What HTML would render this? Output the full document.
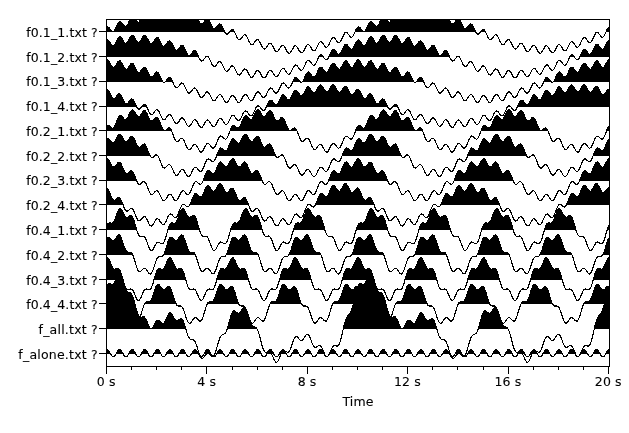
<!DOCTYPE html>
<html lang="en"><head><meta charset="utf-8"><title>Traces</title>
<style>
html,body{margin:0;padding:0;background:#fff;}
body{width:629px;height:433px;overflow:hidden;}
svg{display:block;}
</style></head><body>
<svg width="629" height="433" viewBox="0 0 629 433">
<rect x="0" y="0" width="629" height="433" fill="#fff"/>
<defs><clipPath id="c"><rect x="106.5" y="19.5" width="503.0" height="347.0"/></clipPath></defs>
<g clip-path="url(#c)" shape-rendering="crispEdges" stroke="#000" stroke-width="1.15" stroke-linejoin="round">
<polygon fill="#000" points="106.5,31.4 106.5,27.31 107.75,26.75 109.01,27.58 110.27,29.27 111.52,30.95 112.78,31.79 114.03,31.25 115.28,29.33 116.54,26.56 117.8,23.8 119.05,21.89 120.31,21.38 121.56,22.25 122.81,23.99 124.07,25.73 125.33,26.63 126.58,26.15 127.84,24.3 129.09,21.61 130.34,18.92 131.6,17.1 132.86,16.68 134.11,17.65 135.37,19.48 136.62,21.33 137.88,22.33 139.13,21.97 140.38,20.24 141.64,17.66 142.9,15.1 144.15,13.41 145.41,13.12 146.66,14.22 147.92,16.19 149.17,18.18 150.43,19.33 151.68,19.11 152.94,17.53 154.19,15.11 155.44,12.7 156.7,11.17 157.96,11.04 159.21,12.3 160.47,14.44 161.72,16.59 162.97,17.91 164.23,17.86 165.49,16.45 166.74,14.2 168,11.97 169.25,10.61 170.5,10.65 171.76,12.09 173.02,14.4 174.27,16.73 175.53,18.22 176.78,18.34 178.04,17.1 179.29,15.02 180.55,12.96 181.8,11.77 183.06,11.98 184.31,13.59 185.56,16.07 186.82,18.56 188.07,20.21 189.33,20.5 190.59,19.42 191.84,17.5 193.1,15.59 194.35,14.56 195.61,14.91 196.86,16.67 198.12,19.29 199.37,21.92 200.62,23.71 201.88,24.13 203.13,23.18 204.39,21.39 205.65,19.6 206.9,18.68 208.16,19.15 209.41,21.02 210.67,23.74 211.92,26.48 213.18,28.36 214.43,28.88 215.69,28.01 216.94,26.3 218.19,24.59 219.45,23.75 220.7,24.29 221.96,26.21 223.22,29 224.47,31.78 224.55,31.4"/>
<polygon fill="#000" points="229.39,31.4 229.49,31.76 230.75,30.08 232,29.26 233.26,29.81 234.51,31.75 234.58,31.4"/>
<polygon fill="#000" points="355.05,31.4 356.25,29.24 357.5,27.31 358.75,26.75 360.01,27.58 361.26,29.27 362.52,30.95 363.78,31.79 365.03,31.25 366.29,29.33 367.54,26.56 368.8,23.8 370.05,21.89 371.31,21.38 372.56,22.25 373.81,23.99 375.07,25.73 376.32,26.63 377.58,26.15 378.84,24.3 380.09,21.61 381.35,18.92 382.6,17.1 383.86,16.68 385.11,17.65 386.37,19.48 387.62,21.33 388.88,22.33 390.13,21.97 391.39,20.24 392.64,17.66 393.9,15.1 395.15,13.41 396.41,13.12 397.66,14.22 398.92,16.19 400.17,18.18 401.43,19.33 402.68,19.11 403.94,17.53 405.19,15.11 406.45,12.7 407.7,11.17 408.96,11.04 410.21,12.3 411.47,14.44 412.72,16.59 413.98,17.91 415.23,17.86 416.49,16.45 417.74,14.2 419,11.97 420.25,10.61 421.51,10.65 422.76,12.09 424.02,14.4 425.27,16.73 426.53,18.22 427.78,18.34 429.04,17.1 430.29,15.02 431.55,12.96 432.8,11.77 434.06,11.98 435.31,13.59 436.57,16.07 437.82,18.56 439.08,20.21 440.33,20.5 441.59,19.42 442.84,17.5 444.1,15.59 445.35,14.56 446.61,14.91 447.86,16.67 449.12,19.29 450.37,21.92 451.62,23.71 452.88,24.13 454.14,23.18 455.39,21.39 456.65,19.6 457.9,18.68 459.16,19.15 460.41,21.02 461.67,23.74 462.92,26.48 464.18,28.36 465.43,28.88 466.69,28.01 467.94,26.3 469.2,24.59 470.45,23.75 471.71,24.29 472.96,26.21 474.22,29 475.47,31.78 475.55,31.4"/>
<polygon fill="#000" points="480.39,31.4 480.49,31.76 481.75,30.08 483,29.26 484.26,29.81 485.51,31.75 485.58,31.4"/>
<polygon fill="#000" points="606.05,31.4 607.25,29.24 608.5,27.31 609.76,26.75 609.76,31.4"/>
<polyline fill="none" points="106.5,27.31 107.75,26.75 109.01,27.58 110.27,29.27 111.52,30.95 112.78,31.79 114.03,31.25 115.28,29.33 116.54,26.56 117.8,23.8 119.05,21.89 120.31,21.38 121.56,22.25 122.81,23.99 124.07,25.73 125.33,26.63 126.58,26.15 127.84,24.3 129.09,21.61 130.34,18.92 131.6,17.1 132.86,16.68 134.11,17.65 135.37,19.48 136.62,21.33 137.88,22.33 139.13,21.97 140.38,20.24 141.64,17.66 142.9,15.1 144.15,13.41 145.41,13.12 146.66,14.22 147.92,16.19 149.17,18.18 150.43,19.33 151.68,19.11 152.94,17.53 154.19,15.11 155.44,12.7 156.7,11.17 157.96,11.04 159.21,12.3 160.47,14.44 161.72,16.59 162.97,17.91 164.23,17.86 165.49,16.45 166.74,14.2 168,11.97 169.25,10.61 170.5,10.65 171.76,12.09 173.02,14.4 174.27,16.73 175.53,18.22 176.78,18.34 178.04,17.1 179.29,15.02 180.55,12.96 181.8,11.77 183.06,11.98 184.31,13.59 185.56,16.07 186.82,18.56 188.07,20.21 189.33,20.5 190.59,19.42 191.84,17.5 193.1,15.59 194.35,14.56 195.61,14.91 196.86,16.67 198.12,19.29 199.37,21.92 200.62,23.71 201.88,24.13 203.13,23.18 204.39,21.39 205.65,19.6 206.9,18.68 208.16,19.15 209.41,21.02 210.67,23.74 211.92,26.48 213.18,28.36 214.43,28.88 215.69,28.01 216.94,26.3 218.19,24.59 219.45,23.75 220.7,24.29 221.96,26.21 223.22,29 224.47,31.78 225.73,33.72 226.98,34.27 228.24,33.44 229.49,31.76 230.75,30.08 232,29.26 233.26,29.81 234.51,31.75 235.77,34.53 237.02,37.32 238.28,39.25 239.53,39.79 240.79,38.94 242.04,37.24 243.3,35.53 244.55,34.67 245.81,35.18 247.06,37.08 248.32,39.81 249.57,42.54 250.83,44.41 252.08,44.89 253.34,43.97 254.59,42.19 255.84,40.4 257.1,39.46 258.36,39.88 259.61,41.68 260.87,44.32 262.12,46.95 263.38,48.71 264.63,49.07 265.88,48.04 267.14,46.14 268.39,44.23 269.65,43.15 270.91,43.45 272.16,45.11 273.42,47.61 274.67,50.09 275.93,51.71 277.18,51.93 278.44,50.74 279.69,48.69 280.95,46.62 282.2,45.39 283.46,45.52 284.71,47.02 285.97,49.36 287.22,51.68 288.48,53.13 289.73,53.18 290.99,51.82 292.24,49.6 293.5,47.36 294.75,45.95 296,45.91 297.26,47.24 298.51,49.4 299.77,51.55 301.02,52.82 302.28,52.7 303.54,51.17 304.79,48.78 306.05,46.36 307.3,44.79 308.56,44.58 309.81,45.74 311.07,47.73 312.32,49.71 313.58,50.82 314.83,50.54 316.09,48.85 317.34,46.3 318.6,43.73 319.85,42.01 321.11,41.65 322.36,42.66 323.62,44.51 324.87,46.35 326.12,47.33 327.38,46.91 328.63,45.09 329.89,42.41 331.15,39.73 332.4,37.88 333.66,37.41 334.91,38.31 336.17,40.06 337.42,41.8 338.68,42.67 339.93,42.16 341.19,40.26 342.44,37.5 343.7,34.73 344.95,32.82 346.21,32.28 347.46,33.11 348.72,34.8 349.97,36.49 351.23,37.32 352.48,36.77 353.74,34.83 354.99,32.04 356.25,29.24 357.5,27.31 358.75,26.75 360.01,27.58 361.26,29.27 362.52,30.95 363.78,31.79 365.03,31.25 366.29,29.33 367.54,26.56 368.8,23.8 370.05,21.89 371.31,21.38 372.56,22.25 373.81,23.99 375.07,25.73 376.32,26.63 377.58,26.15 378.84,24.3 380.09,21.61 381.35,18.92 382.6,17.1 383.86,16.68 385.11,17.65 386.37,19.48 387.62,21.33 388.88,22.33 390.13,21.97 391.39,20.24 392.64,17.66 393.9,15.1 395.15,13.41 396.41,13.12 397.66,14.22 398.92,16.19 400.17,18.18 401.43,19.33 402.68,19.11 403.94,17.53 405.19,15.11 406.45,12.7 407.7,11.17 408.96,11.04 410.21,12.3 411.47,14.44 412.72,16.59 413.98,17.91 415.23,17.86 416.49,16.45 417.74,14.2 419,11.97 420.25,10.61 421.51,10.65 422.76,12.09 424.02,14.4 425.27,16.73 426.53,18.22 427.78,18.34 429.04,17.1 430.29,15.02 431.55,12.96 432.8,11.77 434.06,11.98 435.31,13.59 436.57,16.07 437.82,18.56 439.08,20.21 440.33,20.5 441.59,19.42 442.84,17.5 444.1,15.59 445.35,14.56 446.61,14.91 447.86,16.67 449.12,19.29 450.37,21.92 451.62,23.71 452.88,24.13 454.14,23.18 455.39,21.39 456.65,19.6 457.9,18.68 459.16,19.15 460.41,21.02 461.67,23.74 462.92,26.48 464.18,28.36 465.43,28.88 466.69,28.01 467.94,26.3 469.2,24.59 470.45,23.75 471.71,24.29 472.96,26.21 474.22,29 475.47,31.78 476.73,33.72 477.98,34.27 479.24,33.44 480.49,31.76 481.75,30.08 483,29.26 484.26,29.81 485.51,31.75 486.77,34.53 488.02,37.32 489.28,39.25 490.53,39.79 491.79,38.94 493.04,37.24 494.3,35.53 495.55,34.67 496.81,35.18 498.06,37.08 499.32,39.81 500.57,42.54 501.83,44.41 503.08,44.89 504.34,43.97 505.59,42.19 506.85,40.4 508.1,39.46 509.36,39.88 510.61,41.68 511.87,44.32 513.12,46.95 514.38,48.71 515.63,49.07 516.88,48.04 518.14,46.14 519.39,44.23 520.65,43.15 521.9,43.45 523.16,45.11 524.42,47.61 525.67,50.09 526.92,51.71 528.18,51.93 529.44,50.74 530.69,48.69 531.94,46.62 533.2,45.39 534.46,45.52 535.71,47.02 536.97,49.36 538.22,51.68 539.48,53.13 540.73,53.18 541.99,51.82 543.24,49.6 544.5,47.36 545.75,45.95 547.01,45.91 548.26,47.24 549.52,49.4 550.77,51.55 552.03,52.82 553.28,52.7 554.54,51.17 555.79,48.78 557.05,46.36 558.3,44.79 559.56,44.58 560.81,45.74 562.07,47.73 563.32,49.71 564.58,50.82 565.83,50.54 567.09,48.85 568.34,46.3 569.6,43.73 570.85,42.01 572.11,41.65 573.36,42.66 574.62,44.51 575.87,46.35 577.12,47.33 578.38,46.91 579.63,45.09 580.89,42.41 582.14,39.73 583.4,37.88 584.65,37.41 585.91,38.31 587.17,40.06 588.42,41.8 589.67,42.67 590.93,42.16 592.19,40.26 593.44,37.5 594.7,34.73 595.95,32.82 597.21,32.28 598.46,33.11 599.72,34.8 600.97,36.49 602.23,37.32 603.48,36.77 604.74,34.83 605.99,32.04 607.25,29.24 608.5,27.31 609.76,26.75"/>
<polygon fill="#000" points="106.5,56.4 106.5,40.24 107.75,39.86 109.01,40.88 110.27,42.76 111.52,44.66 112.78,45.72 114.03,45.41 115.28,43.73 116.54,41.21 117.8,38.71 119.05,37.07 120.31,36.84 121.56,38 122.81,40.04 124.07,42.09 125.33,43.3 126.58,43.15 127.84,41.63 129.09,39.27 130.34,36.93 131.6,35.47 132.86,35.4 134.11,36.73 135.37,38.94 136.62,41.16 137.88,42.54 139.13,42.56 140.38,41.22 141.64,39.03 142.9,36.87 144.15,35.58 145.41,35.68 146.66,37.19 147.92,39.57 149.17,41.96 150.43,43.52 151.68,43.71 152.94,42.53 154.19,40.52 155.44,38.52 156.7,37.39 157.96,37.66 159.21,39.33 160.47,41.87 161.72,44.42 162.97,46.13 164.23,46.47 165.49,45.44 166.74,43.58 168,41.72 169.25,40.73 170.5,41.14 171.76,42.94 173.02,45.61 174.27,48.29 175.53,50.12 176.78,50.58 178.04,49.67 179.29,47.91 180.55,46.16 181.8,45.28 183.06,45.78 184.31,47.67 185.56,50.43 186.82,53.19 188.07,55.1 189.33,55.64 190.59,54.79 191.84,53.1 193.1,51.41 194.35,50.58 195.61,51.13 196.86,53.06 198.12,55.86 198.46,56.4"/>
<polygon fill="#000" points="206.14,56.4 206.9,56.11 208.07,56.4"/>
<polygon fill="#000" points="319.07,56.4 319.85,55.42 321.11,54.87 322.36,55.7 323.05,56.4"/>
<polygon fill="#000" points="328.98,56.4 329.89,54.61 331.15,51.82 332.4,49.89 333.66,49.34 334.91,50.18 336.17,51.88 337.42,53.58 338.68,54.44 339.93,53.92 341.19,52.02 342.44,49.27 343.7,46.53 344.95,44.66 346.21,44.17 347.46,45.07 348.72,46.84 349.97,48.62 351.23,49.56 352.48,49.12 353.74,47.31 354.99,44.66 356.25,42.02 357.5,40.24 358.75,39.86 360.01,40.88 361.26,42.76 362.52,44.66 363.78,45.72 365.03,45.41 366.29,43.73 367.54,41.21 368.8,38.71 370.05,37.07 371.31,36.84 372.56,38 373.81,40.04 375.07,42.09 376.32,43.3 377.58,43.15 378.84,41.63 380.09,39.27 381.35,36.93 382.6,35.47 383.86,35.4 385.11,36.73 386.37,38.94 387.62,41.16 388.88,42.54 390.13,42.56 391.39,41.22 392.64,39.03 393.9,36.87 395.15,35.58 396.41,35.68 397.66,37.19 398.92,39.57 400.17,41.96 401.43,43.52 402.68,43.71 403.94,42.53 405.19,40.52 406.45,38.52 407.7,37.39 408.96,37.66 410.21,39.33 411.47,41.87 412.72,44.42 413.98,46.13 415.23,46.47 416.49,45.44 417.74,43.58 419,41.72 420.25,40.73 421.51,41.14 422.76,42.94 424.02,45.61 425.27,48.29 426.53,50.12 427.78,50.58 429.04,49.67 430.29,47.91 431.55,46.16 432.8,45.28 434.06,45.78 435.31,47.67 436.57,50.43 437.82,53.19 439.08,55.1 440.33,55.64 441.59,54.79 442.84,53.1 444.1,51.41 445.35,50.58 446.61,51.13 447.86,53.06 449.12,55.86 449.46,56.4"/>
<polygon fill="#000" points="457.14,56.4 457.9,56.11 459.07,56.4"/>
<polygon fill="#000" points="570.07,56.4 570.85,55.42 572.11,54.87 573.36,55.7 574.05,56.4"/>
<polygon fill="#000" points="579.98,56.4 580.89,54.61 582.14,51.82 583.4,49.89 584.65,49.34 585.91,50.18 587.17,51.88 588.42,53.58 589.67,54.44 590.93,53.92 592.19,52.02 593.44,49.27 594.7,46.53 595.95,44.66 597.21,44.17 598.46,45.07 599.72,46.84 600.97,48.62 602.23,49.56 603.48,49.12 604.74,47.31 605.99,44.66 607.25,42.02 608.5,40.24 609.76,39.86 609.76,56.4"/>
<polyline fill="none" points="106.5,40.24 107.75,39.86 109.01,40.88 110.27,42.76 111.52,44.66 112.78,45.72 114.03,45.41 115.28,43.73 116.54,41.21 117.8,38.71 119.05,37.07 120.31,36.84 121.56,38 122.81,40.04 124.07,42.09 125.33,43.3 126.58,43.15 127.84,41.63 129.09,39.27 130.34,36.93 131.6,35.47 132.86,35.4 134.11,36.73 135.37,38.94 136.62,41.16 137.88,42.54 139.13,42.56 140.38,41.22 141.64,39.03 142.9,36.87 144.15,35.58 145.41,35.68 146.66,37.19 147.92,39.57 149.17,41.96 150.43,43.52 151.68,43.71 152.94,42.53 154.19,40.52 155.44,38.52 156.7,37.39 157.96,37.66 159.21,39.33 160.47,41.87 161.72,44.42 162.97,46.13 164.23,46.47 165.49,45.44 166.74,43.58 168,41.72 169.25,40.73 170.5,41.14 171.76,42.94 173.02,45.61 174.27,48.29 175.53,50.12 176.78,50.58 178.04,49.67 179.29,47.91 180.55,46.16 181.8,45.28 183.06,45.78 184.31,47.67 185.56,50.43 186.82,53.19 188.07,55.1 189.33,55.64 190.59,54.79 191.84,53.1 193.1,51.41 194.35,50.58 195.61,51.13 196.86,53.06 198.12,55.86 199.37,58.65 200.62,60.59 201.88,61.14 203.13,60.32 204.39,58.63 205.65,56.95 206.9,56.11 208.16,56.66 209.41,58.58 210.67,61.36 211.92,64.13 213.18,66.04 214.43,66.56 215.69,65.7 216.94,63.97 218.19,62.23 219.45,61.35 220.7,61.83 221.96,63.69 223.22,66.4 224.47,69.09 225.73,70.92 226.98,71.36 228.24,70.41 229.49,68.58 230.75,66.75 232,65.76 233.26,66.14 234.51,67.89 235.77,70.48 237.02,73.05 238.28,74.76 239.53,75.07 240.79,73.99 242.04,72.03 243.3,70.06 244.55,68.93 245.81,69.16 247.06,70.76 248.32,73.2 249.57,75.63 250.83,77.18 252.08,77.33 253.34,76.08 254.59,73.97 255.84,71.83 257.1,70.53 258.36,70.6 259.61,72.03 260.87,74.3 262.12,76.56 263.38,77.94 264.63,77.92 265.88,76.5 267.14,74.21 268.39,71.9 269.65,70.42 270.91,70.32 272.16,71.58 273.42,73.67 274.67,75.75 275.93,76.96 277.18,76.77 278.44,75.18 279.69,72.72 280.95,70.25 282.2,68.61 283.46,68.34 284.71,69.44 285.97,71.37 287.22,73.3 288.48,74.35 289.73,74.01 290.99,72.27 292.24,69.66 293.5,67.04 294.75,65.27 296,64.86 297.26,65.82 298.51,67.63 299.77,69.43 301.02,70.36 302.28,69.9 303.54,68.04 304.79,65.33 306.05,62.6 307.3,60.72 308.56,60.22 309.81,61.09 311.07,62.81 312.32,64.52 313.58,65.38 314.83,64.84 316.09,62.92 317.34,60.14 318.6,57.36 319.85,55.42 321.11,54.87 322.36,55.7 323.62,57.38 324.87,59.06 326.12,59.89 327.38,59.34 328.63,57.4 329.89,54.61 331.15,51.82 332.4,49.89 333.66,49.34 334.91,50.18 336.17,51.88 337.42,53.58 338.68,54.44 339.93,53.92 341.19,52.02 342.44,49.27 343.7,46.53 344.95,44.66 346.21,44.17 347.46,45.07 348.72,46.84 349.97,48.62 351.23,49.56 352.48,49.12 353.74,47.31 354.99,44.66 356.25,42.02 357.5,40.24 358.75,39.86 360.01,40.88 361.26,42.76 362.52,44.66 363.78,45.72 365.03,45.41 366.29,43.73 367.54,41.21 368.8,38.71 370.05,37.07 371.31,36.84 372.56,38 373.81,40.04 375.07,42.09 376.32,43.3 377.58,43.15 378.84,41.63 380.09,39.27 381.35,36.93 382.6,35.47 383.86,35.4 385.11,36.73 386.37,38.94 387.62,41.16 388.88,42.54 390.13,42.56 391.39,41.22 392.64,39.03 393.9,36.87 395.15,35.58 396.41,35.68 397.66,37.19 398.92,39.57 400.17,41.96 401.43,43.52 402.68,43.71 403.94,42.53 405.19,40.52 406.45,38.52 407.7,37.39 408.96,37.66 410.21,39.33 411.47,41.87 412.72,44.42 413.98,46.13 415.23,46.47 416.49,45.44 417.74,43.58 419,41.72 420.25,40.73 421.51,41.14 422.76,42.94 424.02,45.61 425.27,48.29 426.53,50.12 427.78,50.58 429.04,49.67 430.29,47.91 431.55,46.16 432.8,45.28 434.06,45.78 435.31,47.67 436.57,50.43 437.82,53.19 439.08,55.1 440.33,55.64 441.59,54.79 442.84,53.1 444.1,51.41 445.35,50.58 446.61,51.13 447.86,53.06 449.12,55.86 450.37,58.65 451.62,60.59 452.88,61.14 454.14,60.32 455.39,58.63 456.65,56.95 457.9,56.11 459.16,56.66 460.41,58.58 461.67,61.36 462.92,64.13 464.18,66.04 465.43,66.56 466.69,65.7 467.94,63.97 469.2,62.23 470.45,61.35 471.71,61.83 472.96,63.69 474.22,66.4 475.47,69.09 476.73,70.92 477.98,71.36 479.24,70.41 480.49,68.58 481.75,66.75 483,65.76 484.26,66.14 485.51,67.89 486.77,70.48 488.02,73.05 489.28,74.76 490.53,75.07 491.79,73.99 493.04,72.03 494.3,70.06 495.55,68.93 496.81,69.16 498.06,70.76 499.32,73.2 500.57,75.63 501.83,77.18 503.08,77.33 504.34,76.08 505.59,73.97 506.85,71.83 508.1,70.53 509.36,70.6 510.61,72.03 511.87,74.3 513.12,76.56 514.38,77.94 515.63,77.92 516.88,76.5 518.14,74.21 519.39,71.9 520.65,70.42 521.9,70.32 523.16,71.58 524.42,73.67 525.67,75.75 526.92,76.96 528.18,76.77 529.44,75.18 530.69,72.72 531.94,70.25 533.2,68.61 534.46,68.34 535.71,69.44 536.97,71.37 538.22,73.3 539.48,74.35 540.73,74.01 541.99,72.27 543.24,69.66 544.5,67.04 545.75,65.27 547.01,64.86 548.26,65.82 549.52,67.63 550.77,69.43 552.03,70.36 553.28,69.9 554.54,68.04 555.79,65.33 557.05,62.6 558.3,60.72 559.56,60.22 560.81,61.09 562.07,62.81 563.32,64.52 564.58,65.38 565.83,64.84 567.09,62.92 568.34,60.14 569.6,57.36 570.85,55.42 572.11,54.87 573.36,55.7 574.62,57.38 575.87,59.06 577.12,59.89 578.38,59.34 579.63,57.4 580.89,54.61 582.14,51.82 583.4,49.89 584.65,49.34 585.91,50.18 587.17,51.88 588.42,53.58 589.67,54.44 590.93,53.92 592.19,52.02 593.44,49.27 594.7,46.53 595.95,44.66 597.21,44.17 598.46,45.07 599.72,46.84 600.97,48.62 602.23,49.56 603.48,49.12 604.74,47.31 605.99,44.66 607.25,42.02 608.5,40.24 609.76,39.86"/>
<polygon fill="#000" points="106.5,81.4 106.5,60.02 107.75,60.02 109.01,61.42 110.27,63.69 111.52,65.98 112.78,67.44 114.03,67.52 115.28,66.24 116.54,64.13 117.8,62.03 119.05,60.8 120.31,60.98 121.56,62.55 122.81,64.99 124.07,67.44 125.33,69.06 126.58,69.32 127.84,68.2 129.09,66.25 130.34,64.31 131.6,63.24 132.86,63.57 134.11,65.29 135.37,67.88 136.62,70.49 137.88,72.25 139.13,72.64 140.38,71.66 141.64,69.84 142.9,68.04 144.15,67.09 145.41,67.54 146.66,69.39 147.92,72.09 149.17,74.81 150.43,76.68 151.68,77.17 152.94,76.29 154.19,74.57 155.44,72.85 156.7,71.99 157.96,72.52 159.21,74.43 160.47,77.21 161.72,79.99 162.6,81.4"/>
<polygon fill="#000" points="165.7,81.4 166.74,79.95 168,78.27 169.25,77.44 170.5,78 171.76,79.94 172.39,81.4"/>
<polygon fill="#000" points="292.86,81.4 293.5,79.94 294.75,78 296,77.44 297.26,78.27 298.51,79.95 299.55,81.4"/>
<polygon fill="#000" points="302.65,81.4 303.54,79.99 304.79,77.21 306.05,74.43 307.3,72.52 308.56,71.99 309.81,72.85 311.07,74.57 312.32,76.29 313.58,77.17 314.83,76.68 316.09,74.81 317.34,72.09 318.6,69.39 319.85,67.54 321.11,67.09 322.36,68.04 323.62,69.84 324.87,71.66 326.12,72.64 327.38,72.25 328.63,70.49 329.89,67.88 331.15,65.29 332.4,63.57 333.66,63.24 334.91,64.31 336.17,66.25 337.42,68.2 338.68,69.32 339.93,69.06 341.19,67.44 342.44,64.99 343.7,62.55 344.95,60.98 346.21,60.8 347.46,62.03 348.72,64.13 349.97,66.24 351.23,67.52 352.48,67.44 353.74,65.98 354.99,63.69 356.25,61.42 357.5,60.02 358.75,60.02 360.01,61.42 361.26,63.69 362.52,65.98 363.78,67.44 365.03,67.52 366.29,66.24 367.54,64.13 368.8,62.03 370.05,60.8 371.31,60.98 372.56,62.55 373.81,64.99 375.07,67.44 376.32,69.06 377.58,69.32 378.84,68.2 380.09,66.25 381.35,64.31 382.6,63.24 383.86,63.57 385.11,65.29 386.37,67.88 387.62,70.49 388.88,72.25 390.13,72.64 391.39,71.66 392.64,69.84 393.9,68.04 395.15,67.09 396.41,67.54 397.66,69.39 398.92,72.09 400.17,74.81 401.43,76.68 402.68,77.17 403.94,76.29 405.19,74.57 406.45,72.85 407.7,71.99 408.96,72.52 410.21,74.43 411.47,77.21 412.72,79.99 413.6,81.4"/>
<polygon fill="#000" points="416.7,81.4 417.74,79.95 419,78.27 420.25,77.44 421.51,78 422.76,79.94 423.39,81.4"/>
<polygon fill="#000" points="543.86,81.4 544.5,79.94 545.75,78 547.01,77.44 548.26,78.27 549.52,79.95 550.55,81.4"/>
<polygon fill="#000" points="553.65,81.4 554.54,79.99 555.79,77.21 557.05,74.43 558.3,72.52 559.56,71.99 560.81,72.85 562.07,74.57 563.32,76.29 564.58,77.17 565.83,76.68 567.09,74.81 568.34,72.09 569.6,69.39 570.85,67.54 572.11,67.09 573.36,68.04 574.62,69.84 575.87,71.66 577.12,72.64 578.38,72.25 579.63,70.49 580.89,67.88 582.14,65.29 583.4,63.57 584.65,63.24 585.91,64.31 587.17,66.25 588.42,68.2 589.67,69.32 590.93,69.06 592.19,67.44 593.44,64.99 594.7,62.55 595.95,60.98 597.21,60.8 598.46,62.03 599.72,64.13 600.97,66.24 602.23,67.52 603.48,67.44 604.74,65.98 605.99,63.69 607.25,61.42 608.5,60.02 609.76,60.02 609.76,81.4"/>
<polyline fill="none" points="106.5,60.02 107.75,60.02 109.01,61.42 110.27,63.69 111.52,65.98 112.78,67.44 114.03,67.52 115.28,66.24 116.54,64.13 117.8,62.03 119.05,60.8 120.31,60.98 121.56,62.55 122.81,64.99 124.07,67.44 125.33,69.06 126.58,69.32 127.84,68.2 129.09,66.25 130.34,64.31 131.6,63.24 132.86,63.57 134.11,65.29 135.37,67.88 136.62,70.49 137.88,72.25 139.13,72.64 140.38,71.66 141.64,69.84 142.9,68.04 144.15,67.09 145.41,67.54 146.66,69.39 147.92,72.09 149.17,74.81 150.43,76.68 151.68,77.17 152.94,76.29 154.19,74.57 155.44,72.85 156.7,71.99 157.96,72.52 159.21,74.43 160.47,77.21 161.72,79.99 162.97,81.92 164.23,82.47 165.49,81.63 166.74,79.95 168,78.27 169.25,77.44 170.5,78 171.76,79.94 173.02,82.73 174.27,85.52 175.53,87.45 176.78,88 178.04,87.17 179.29,85.47 180.55,83.77 181.8,82.93 183.06,83.45 184.31,85.36 185.56,88.11 186.82,90.86 188.07,92.75 189.33,93.24 190.59,92.35 191.84,90.59 193.1,88.82 194.35,87.9 195.61,88.35 196.86,90.17 198.12,92.84 199.37,95.49 200.62,97.28 201.88,97.67 203.13,96.67 204.39,94.8 205.65,92.92 206.9,91.88 208.16,92.2 209.41,93.9 210.67,96.43 211.92,98.95 213.18,100.6 214.43,100.85 215.69,99.71 216.94,97.69 218.19,95.66 219.45,94.47 220.7,94.64 221.96,96.18 223.22,98.55 224.47,100.91 225.73,102.4 226.98,102.48 228.24,101.17 229.49,98.99 230.75,96.78 232,95.42 233.26,95.42 234.51,96.78 235.77,98.99 237.02,101.17 238.28,102.48 239.53,102.4 240.79,100.91 242.04,98.55 243.3,96.18 244.55,94.64 245.81,94.47 247.06,95.66 248.32,97.69 249.57,99.71 250.83,100.85 252.08,100.6 253.34,98.95 254.59,96.43 255.84,93.9 257.1,92.2 258.36,91.88 259.61,92.92 260.87,94.8 262.12,96.67 263.38,97.67 264.63,97.28 265.88,95.49 267.14,92.84 268.39,90.17 269.65,88.35 270.91,87.9 272.16,88.82 273.42,90.59 274.67,92.35 275.93,93.24 277.18,92.75 278.44,90.86 279.69,88.11 280.95,85.36 282.2,83.45 283.46,82.93 284.71,83.77 285.97,85.47 287.22,87.17 288.48,88 289.73,87.45 290.99,85.52 292.24,82.73 293.5,79.94 294.75,78 296,77.44 297.26,78.27 298.51,79.95 299.77,81.63 301.02,82.47 302.28,81.92 303.54,79.99 304.79,77.21 306.05,74.43 307.3,72.52 308.56,71.99 309.81,72.85 311.07,74.57 312.32,76.29 313.58,77.17 314.83,76.68 316.09,74.81 317.34,72.09 318.6,69.39 319.85,67.54 321.11,67.09 322.36,68.04 323.62,69.84 324.87,71.66 326.12,72.64 327.38,72.25 328.63,70.49 329.89,67.88 331.15,65.29 332.4,63.57 333.66,63.24 334.91,64.31 336.17,66.25 337.42,68.2 338.68,69.32 339.93,69.06 341.19,67.44 342.44,64.99 343.7,62.55 344.95,60.98 346.21,60.8 347.46,62.03 348.72,64.13 349.97,66.24 351.23,67.52 352.48,67.44 353.74,65.98 354.99,63.69 356.25,61.42 357.5,60.02 358.75,60.02 360.01,61.42 361.26,63.69 362.52,65.98 363.78,67.44 365.03,67.52 366.29,66.24 367.54,64.13 368.8,62.03 370.05,60.8 371.31,60.98 372.56,62.55 373.81,64.99 375.07,67.44 376.32,69.06 377.58,69.32 378.84,68.2 380.09,66.25 381.35,64.31 382.6,63.24 383.86,63.57 385.11,65.29 386.37,67.88 387.62,70.49 388.88,72.25 390.13,72.64 391.39,71.66 392.64,69.84 393.9,68.04 395.15,67.09 396.41,67.54 397.66,69.39 398.92,72.09 400.17,74.81 401.43,76.68 402.68,77.17 403.94,76.29 405.19,74.57 406.45,72.85 407.7,71.99 408.96,72.52 410.21,74.43 411.47,77.21 412.72,79.99 413.98,81.92 415.23,82.47 416.49,81.63 417.74,79.95 419,78.27 420.25,77.44 421.51,78 422.76,79.94 424.02,82.73 425.27,85.52 426.53,87.45 427.78,88 429.04,87.17 430.29,85.47 431.55,83.77 432.8,82.93 434.06,83.45 435.31,85.36 436.57,88.11 437.82,90.86 439.08,92.75 440.33,93.24 441.59,92.35 442.84,90.59 444.1,88.82 445.35,87.9 446.61,88.35 447.86,90.17 449.12,92.84 450.37,95.49 451.62,97.28 452.88,97.67 454.14,96.67 455.39,94.8 456.65,92.92 457.9,91.88 459.16,92.2 460.41,93.9 461.67,96.43 462.92,98.95 464.18,100.6 465.43,100.85 466.69,99.71 467.94,97.69 469.2,95.66 470.45,94.47 471.71,94.64 472.96,96.18 474.22,98.55 475.47,100.91 476.73,102.4 477.98,102.48 479.24,101.17 480.49,98.99 481.75,96.78 483,95.42 484.26,95.42 485.51,96.78 486.77,98.99 488.02,101.17 489.28,102.48 490.53,102.4 491.79,100.91 493.04,98.55 494.3,96.18 495.55,94.64 496.81,94.47 498.06,95.66 499.32,97.69 500.57,99.71 501.83,100.85 503.08,100.6 504.34,98.95 505.59,96.43 506.85,93.9 508.1,92.2 509.36,91.88 510.61,92.92 511.87,94.8 513.12,96.67 514.38,97.67 515.63,97.28 516.88,95.49 518.14,92.84 519.39,90.17 520.65,88.35 521.9,87.9 523.16,88.82 524.42,90.59 525.67,92.35 526.92,93.24 528.18,92.75 529.44,90.86 530.69,88.11 531.94,85.36 533.2,83.45 534.46,82.93 535.71,83.77 536.97,85.47 538.22,87.17 539.48,88 540.73,87.45 541.99,85.52 543.24,82.73 544.5,79.94 545.75,78 547.01,77.44 548.26,78.27 549.52,79.95 550.77,81.63 552.03,82.47 553.28,81.92 554.54,79.99 555.79,77.21 557.05,74.43 558.3,72.52 559.56,71.99 560.81,72.85 562.07,74.57 563.32,76.29 564.58,77.17 565.83,76.68 567.09,74.81 568.34,72.09 569.6,69.39 570.85,67.54 572.11,67.09 573.36,68.04 574.62,69.84 575.87,71.66 577.12,72.64 578.38,72.25 579.63,70.49 580.89,67.88 582.14,65.29 583.4,63.57 584.65,63.24 585.91,64.31 587.17,66.25 588.42,68.2 589.67,69.32 590.93,69.06 592.19,67.44 593.44,64.99 594.7,62.55 595.95,60.98 597.21,60.8 598.46,62.03 599.72,64.13 600.97,66.24 602.23,67.52 603.48,67.44 604.74,65.98 605.99,63.69 607.25,61.42 608.5,60.02 609.76,60.02"/>
<polygon fill="#000" points="106.5,106.4 106.5,89.3 107.75,89.68 109.01,91.46 110.27,94.1 111.52,96.75 112.78,98.56 114.03,99 115.28,98.06 116.54,96.28 117.8,94.51 119.05,93.61 120.31,94.1 121.56,95.97 122.81,98.71 124.07,101.46 125.33,103.36 126.58,103.88 127.84,103.02 129.09,101.32 130.34,99.62 131.6,98.78 132.86,99.33 134.11,101.26 135.37,104.05 136.27,106.4"/>
<polygon fill="#000" points="142.21,106.4 142.9,105.14 144.15,104.31 145.41,104.86 146.18,106.4"/>
<polygon fill="#000" points="257.19,106.4 258.36,105.55 259.12,106.4"/>
<polygon fill="#000" points="266.8,106.4 267.14,105.3 268.39,102.5 269.65,100.57 270.91,100.02 272.16,100.85 273.42,102.54 274.67,104.23 275.93,105.08 277.18,104.54 278.44,102.63 279.69,99.87 280.95,97.11 282.2,95.22 283.46,94.72 284.71,95.6 285.97,97.35 287.22,99.11 288.48,100.02 289.73,99.56 290.99,97.73 292.24,95.05 293.5,92.38 294.75,90.58 296,90.17 297.26,91.16 298.51,93.02 299.77,94.88 301.02,95.91 302.28,95.57 303.54,93.86 304.79,91.31 306.05,88.77 307.3,87.1 308.56,86.83 309.81,87.96 311.07,89.96 312.32,91.97 313.58,93.15 314.83,92.96 316.09,91.4 317.34,89.01 318.6,86.63 319.85,85.12 321.11,85.02 322.36,86.31 323.62,88.47 324.87,90.66 326.12,92 327.38,91.98 328.63,90.6 329.89,88.38 331.15,86.17 332.4,84.84 333.66,84.91 334.91,86.37 336.17,88.71 337.42,91.07 338.68,92.59 339.93,92.74 341.19,91.53 342.44,89.48 343.7,87.44 344.95,86.28 346.21,86.51 347.46,88.15 348.72,90.65 349.97,93.17 351.23,94.85 352.48,95.16 353.74,94.1 354.99,92.2 356.25,90.32 357.5,89.3 358.75,89.68 360.01,91.46 361.26,94.1 362.52,96.75 363.78,98.56 365.03,99 366.29,98.06 367.54,96.28 368.8,94.51 370.05,93.61 371.31,94.1 372.56,95.97 373.81,98.71 375.07,101.46 376.32,103.36 377.58,103.88 378.84,103.02 380.09,101.32 381.35,99.62 382.6,98.78 383.86,99.33 385.11,101.26 386.37,104.05 387.27,106.4"/>
<polygon fill="#000" points="393.21,106.4 393.9,105.14 395.15,104.31 396.41,104.86 397.18,106.4"/>
<polygon fill="#000" points="508.19,106.4 509.36,105.55 510.12,106.4"/>
<polygon fill="#000" points="517.8,106.4 518.14,105.3 519.39,102.5 520.65,100.57 521.9,100.02 523.16,100.85 524.42,102.54 525.67,104.23 526.92,105.08 528.18,104.54 529.44,102.63 530.69,99.87 531.94,97.11 533.2,95.22 534.46,94.72 535.71,95.6 536.97,97.35 538.22,99.11 539.48,100.02 540.73,99.56 541.99,97.73 543.24,95.05 544.5,92.38 545.75,90.58 547.01,90.17 548.26,91.16 549.52,93.02 550.77,94.88 552.03,95.91 553.28,95.57 554.54,93.86 555.79,91.31 557.05,88.77 558.3,87.1 559.56,86.83 560.81,87.96 562.07,89.96 563.32,91.97 564.58,93.15 565.83,92.96 567.09,91.4 568.34,89.01 569.6,86.63 570.85,85.12 572.11,85.02 573.36,86.31 574.62,88.47 575.87,90.66 577.12,92 578.38,91.98 579.63,90.6 580.89,88.38 582.14,86.17 583.4,84.84 584.65,84.91 585.91,86.37 587.17,88.71 588.42,91.07 589.67,92.59 590.93,92.74 592.19,91.53 593.44,89.48 594.7,87.44 595.95,86.28 597.21,86.51 598.46,88.15 599.72,90.65 600.97,93.17 602.23,94.85 603.48,95.16 604.74,94.1 605.99,92.2 607.25,90.32 608.5,89.3 609.76,89.68 609.76,106.4"/>
<polyline fill="none" points="106.5,89.3 107.75,89.68 109.01,91.46 110.27,94.1 111.52,96.75 112.78,98.56 114.03,99 115.28,98.06 116.54,96.28 117.8,94.51 119.05,93.61 120.31,94.1 121.56,95.97 122.81,98.71 124.07,101.46 125.33,103.36 126.58,103.88 127.84,103.02 129.09,101.32 130.34,99.62 131.6,98.78 132.86,99.33 134.11,101.26 135.37,104.05 136.62,106.84 137.88,108.78 139.13,109.33 140.38,108.5 141.64,106.82 142.9,105.14 144.15,104.31 145.41,104.86 146.66,106.8 147.92,109.58 149.17,112.36 150.43,114.28 151.68,114.82 152.94,113.96 154.19,112.25 155.44,110.53 156.7,109.66 157.96,110.16 159.21,112.04 160.47,114.77 161.72,117.48 162.97,119.34 164.23,119.8 165.49,118.87 166.74,117.07 168,115.26 169.25,114.3 170.5,114.71 171.76,116.48 173.02,119.1 174.27,121.71 175.53,123.45 176.78,123.79 178.04,122.74 179.29,120.81 180.55,118.88 181.8,117.78 183.06,118.05 184.31,119.69 185.56,122.16 186.82,124.62 188.07,126.21 189.33,126.4 190.59,125.19 191.84,123.11 193.1,121.02 194.35,119.76 195.61,119.86 196.86,121.34 198.12,123.65 199.37,125.94 200.62,127.36 201.88,127.38 203.13,126 204.39,123.74 205.65,121.47 206.9,120.04 208.16,119.97 209.41,121.27 210.67,123.41 211.92,125.52 213.18,126.77 214.43,126.62 215.69,125.07 216.94,122.64 218.19,120.2 219.45,118.6 220.7,118.37 221.96,119.5 223.22,121.47 224.47,123.43 225.73,124.51 226.98,124.2 228.24,122.49 229.49,119.92 230.75,117.33 232,115.58 233.26,115.2 234.51,116.19 235.77,118.02 237.02,119.85 238.28,120.8 239.53,120.36 240.79,118.53 242.04,115.84 243.3,113.13 244.55,111.27 245.81,110.79 247.06,111.67 248.32,113.41 249.57,115.14 250.83,116 252.08,115.48 253.34,113.57 254.59,110.8 255.84,108.02 257.1,106.1 258.36,105.55 259.61,106.39 260.87,108.07 262.12,109.76 263.38,110.58 264.63,110.03 265.88,108.09 267.14,105.3 268.39,102.5 269.65,100.57 270.91,100.02 272.16,100.85 273.42,102.54 274.67,104.23 275.93,105.08 277.18,104.54 278.44,102.63 279.69,99.87 280.95,97.11 282.2,95.22 283.46,94.72 284.71,95.6 285.97,97.35 287.22,99.11 288.48,100.02 289.73,99.56 290.99,97.73 292.24,95.05 293.5,92.38 294.75,90.58 296,90.17 297.26,91.16 298.51,93.02 299.77,94.88 301.02,95.91 302.28,95.57 303.54,93.86 304.79,91.31 306.05,88.77 307.3,87.1 308.56,86.83 309.81,87.96 311.07,89.96 312.32,91.97 313.58,93.15 314.83,92.96 316.09,91.4 317.34,89.01 318.6,86.63 319.85,85.12 321.11,85.02 322.36,86.31 323.62,88.47 324.87,90.66 326.12,92 327.38,91.98 328.63,90.6 329.89,88.38 331.15,86.17 332.4,84.84 333.66,84.91 334.91,86.37 336.17,88.71 337.42,91.07 338.68,92.59 339.93,92.74 341.19,91.53 342.44,89.48 343.7,87.44 344.95,86.28 346.21,86.51 347.46,88.15 348.72,90.65 349.97,93.17 351.23,94.85 352.48,95.16 353.74,94.1 354.99,92.2 356.25,90.32 357.5,89.3 358.75,89.68 360.01,91.46 361.26,94.1 362.52,96.75 363.78,98.56 365.03,99 366.29,98.06 367.54,96.28 368.8,94.51 370.05,93.61 371.31,94.1 372.56,95.97 373.81,98.71 375.07,101.46 376.32,103.36 377.58,103.88 378.84,103.02 380.09,101.32 381.35,99.62 382.6,98.78 383.86,99.33 385.11,101.26 386.37,104.05 387.62,106.84 388.88,108.78 390.13,109.33 391.39,108.5 392.64,106.82 393.9,105.14 395.15,104.31 396.41,104.86 397.66,106.8 398.92,109.58 400.17,112.36 401.43,114.28 402.68,114.82 403.94,113.96 405.19,112.25 406.45,110.53 407.7,109.66 408.96,110.16 410.21,112.04 411.47,114.77 412.72,117.48 413.98,119.34 415.23,119.8 416.49,118.87 417.74,117.07 419,115.26 420.25,114.3 421.51,114.71 422.76,116.48 424.02,119.1 425.27,121.71 426.53,123.45 427.78,123.79 429.04,122.74 430.29,120.81 431.55,118.88 432.8,117.78 434.06,118.05 435.31,119.69 436.57,122.16 437.82,124.62 439.08,126.21 440.33,126.4 441.59,125.19 442.84,123.11 444.1,121.02 445.35,119.76 446.61,119.86 447.86,121.34 449.12,123.65 450.37,125.94 451.62,127.36 452.88,127.38 454.14,126 455.39,123.74 456.65,121.47 457.9,120.04 459.16,119.97 460.41,121.27 461.67,123.41 462.92,125.52 464.18,126.77 465.43,126.62 466.69,125.07 467.94,122.64 469.2,120.2 470.45,118.6 471.71,118.37 472.96,119.5 474.22,121.47 475.47,123.43 476.73,124.51 477.98,124.2 479.24,122.49 480.49,119.92 481.75,117.33 483,115.58 484.26,115.2 485.51,116.19 486.77,118.02 488.02,119.85 489.28,120.8 490.53,120.36 491.79,118.53 493.04,115.84 494.3,113.13 495.55,111.27 496.81,110.79 498.06,111.67 499.32,113.41 500.57,115.14 501.83,116 503.08,115.48 504.34,113.57 505.59,110.8 506.85,108.02 508.1,106.1 509.36,105.55 510.61,106.39 511.87,108.07 513.12,109.76 514.38,110.58 515.63,110.03 516.88,108.09 518.14,105.3 519.39,102.5 520.65,100.57 521.9,100.02 523.16,100.85 524.42,102.54 525.67,104.23 526.92,105.08 528.18,104.54 529.44,102.63 530.69,99.87 531.94,97.11 533.2,95.22 534.46,94.72 535.71,95.6 536.97,97.35 538.22,99.11 539.48,100.02 540.73,99.56 541.99,97.73 543.24,95.05 544.5,92.38 545.75,90.58 547.01,90.17 548.26,91.16 549.52,93.02 550.77,94.88 552.03,95.91 553.28,95.57 554.54,93.86 555.79,91.31 557.05,88.77 558.3,87.1 559.56,86.83 560.81,87.96 562.07,89.96 563.32,91.97 564.58,93.15 565.83,92.96 567.09,91.4 568.34,89.01 569.6,86.63 570.85,85.12 572.11,85.02 573.36,86.31 574.62,88.47 575.87,90.66 577.12,92 578.38,91.98 579.63,90.6 580.89,88.38 582.14,86.17 583.4,84.84 584.65,84.91 585.91,86.37 587.17,88.71 588.42,91.07 589.67,92.59 590.93,92.74 592.19,91.53 593.44,89.48 594.7,87.44 595.95,86.28 597.21,86.51 598.46,88.15 599.72,90.65 600.97,93.17 602.23,94.85 603.48,95.16 604.74,94.1 605.99,92.2 607.25,90.32 608.5,89.3 609.76,89.68"/>
<polygon fill="#000" points="106.5,130.4 106.5,126.46 107.75,125.35 109.01,125.64 110.27,126.78 111.52,127.94 112.78,128.27 114.03,127.24 115.28,124.86 116.54,121.65 117.8,118.48 119.05,116.2 120.31,115.35 121.56,115.93 122.81,117.41 124.07,118.95 125.33,119.68 126.58,119.09 127.84,117.18 129.09,114.48 130.34,111.84 131.6,110.12 132.86,109.86 134.11,111.04 135.37,113.15 136.62,115.32 137.88,116.71 139.13,116.79 140.38,115.56 141.64,113.54 142.9,111.59 144.15,110.56 145.41,110.97 146.66,112.84 147.92,115.62 149.17,118.46 150.43,120.5 151.68,121.22 152.94,120.6 154.19,119.18 155.44,117.81 156.7,117.33 157.96,118.27 159.21,120.63 160.47,123.88 161.72,127.15 162.97,129.6 164.23,130.68 165.49,130.39 166.74,129.25 168,128.13 169.25,127.86 170.5,128.97 171.42,130.4"/>
<polygon fill="#000" points="230.06,130.4 230.75,128.96 232,126.46 233.26,125.35 234.51,125.64 235.77,126.78 237.02,127.94 238.28,128.27 239.53,127.24 240.79,124.86 242.04,121.65 243.3,118.48 244.55,116.2 245.81,115.35 247.06,115.93 248.32,117.41 249.57,118.95 250.83,119.68 252.08,119.09 253.34,117.18 254.59,114.48 255.84,111.84 257.1,110.12 258.36,109.86 259.61,111.04 260.87,113.15 262.12,115.32 263.38,116.71 264.63,116.79 265.88,115.56 267.14,113.54 268.39,111.59 269.65,110.56 270.91,110.97 272.16,112.84 273.42,115.62 274.67,118.46 275.93,120.5 277.18,121.22 278.44,120.6 279.69,119.18 280.95,117.81 282.2,117.33 283.46,118.27 284.71,120.63 285.97,123.88 287.22,127.15 288.48,129.6 289.73,130.68 290.99,130.39 292.24,129.25 293.5,128.13 294.75,127.86 296,128.97 296.92,130.4"/>
<polygon fill="#000" points="355.56,130.4 356.25,128.96 357.5,126.46 358.75,125.35 360.01,125.64 361.26,126.78 362.52,127.94 363.78,128.27 365.03,127.24 366.29,124.86 367.54,121.65 368.8,118.48 370.05,116.2 371.31,115.35 372.56,115.93 373.81,117.41 375.07,118.95 376.32,119.68 377.58,119.09 378.84,117.18 380.09,114.48 381.35,111.84 382.6,110.12 383.86,109.86 385.11,111.04 386.37,113.15 387.62,115.32 388.88,116.71 390.13,116.79 391.39,115.56 392.64,113.54 393.9,111.59 395.15,110.56 396.41,110.97 397.66,112.84 398.92,115.62 400.17,118.46 401.43,120.5 402.68,121.22 403.94,120.6 405.19,119.18 406.45,117.81 407.7,117.33 408.96,118.27 410.21,120.63 411.47,123.88 412.72,127.15 413.98,129.6 415.23,130.68 416.49,130.39 417.74,129.25 419,128.13 420.25,127.86 421.51,128.97 422.42,130.4"/>
<polygon fill="#000" points="481.06,130.4 481.75,128.96 483,126.46 484.26,125.35 485.51,125.64 486.77,126.78 488.02,127.94 489.28,128.27 490.53,127.24 491.79,124.86 493.04,121.65 494.3,118.48 495.55,116.2 496.81,115.35 498.06,115.93 499.32,117.41 500.57,118.95 501.83,119.68 503.08,119.09 504.34,117.18 505.59,114.48 506.85,111.84 508.1,110.12 509.36,109.86 510.61,111.04 511.87,113.15 513.12,115.32 514.38,116.71 515.63,116.79 516.88,115.56 518.14,113.54 519.39,111.59 520.65,110.56 521.9,110.97 523.16,112.84 524.42,115.62 525.67,118.46 526.92,120.5 528.18,121.22 529.44,120.6 530.69,119.18 531.94,117.81 533.2,117.33 534.46,118.27 535.71,120.63 536.97,123.88 538.22,127.15 539.48,129.6 540.73,130.68 541.99,130.39 543.24,129.25 544.5,128.13 545.75,127.86 547.01,128.97 547.92,130.4"/>
<polygon fill="#000" points="606.56,130.4 607.25,128.96 608.5,126.46 609.76,125.35 609.76,130.4"/>
<polyline fill="none" points="106.5,126.46 107.75,125.35 109.01,125.64 110.27,126.78 111.52,127.94 112.78,128.27 114.03,127.24 115.28,124.86 116.54,121.65 117.8,118.48 119.05,116.2 120.31,115.35 121.56,115.93 122.81,117.41 124.07,118.95 125.33,119.68 126.58,119.09 127.84,117.18 129.09,114.48 130.34,111.84 131.6,110.12 132.86,109.86 134.11,111.04 135.37,113.15 136.62,115.32 137.88,116.71 139.13,116.79 140.38,115.56 141.64,113.54 142.9,111.59 144.15,110.56 145.41,110.97 146.66,112.84 147.92,115.62 149.17,118.46 150.43,120.5 151.68,121.22 152.94,120.6 154.19,119.18 155.44,117.81 156.7,117.33 157.96,118.27 159.21,120.63 160.47,123.88 161.72,127.15 162.97,129.6 164.23,130.68 165.49,130.39 166.74,129.25 168,128.13 169.25,127.86 170.5,128.97 171.76,131.45 173.02,134.78 174.27,138.09 175.53,140.53 176.78,141.56 178.04,141.18 179.29,139.91 180.55,138.61 181.8,138.12 183.06,138.97 184.31,141.16 185.56,144.15 186.82,147.09 188.07,149.12 189.33,149.71 190.59,148.85 191.84,147.08 193.1,145.24 194.35,144.2 195.61,144.46 196.86,146.05 198.12,148.41 199.37,150.71 200.62,152.09 201.88,152.01 203.13,150.48 204.39,148.02 205.65,145.5 206.9,143.77 208.16,143.35 209.41,144.25 210.67,145.94 211.92,147.58 213.18,148.3 214.43,147.58 215.69,145.43 216.94,142.38 218.19,139.28 219.45,136.99 220.7,136.05 221.96,136.45 223.22,137.68 224.47,138.88 225.73,139.2 226.98,138.12 228.24,135.65 229.49,132.31 230.75,128.96 232,126.46 233.26,125.35 234.51,125.64 235.77,126.78 237.02,127.94 238.28,128.27 239.53,127.24 240.79,124.86 242.04,121.65 243.3,118.48 244.55,116.2 245.81,115.35 247.06,115.93 248.32,117.41 249.57,118.95 250.83,119.68 252.08,119.09 253.34,117.18 254.59,114.48 255.84,111.84 257.1,110.12 258.36,109.86 259.61,111.04 260.87,113.15 262.12,115.32 263.38,116.71 264.63,116.79 265.88,115.56 267.14,113.54 268.39,111.59 269.65,110.56 270.91,110.97 272.16,112.84 273.42,115.62 274.67,118.46 275.93,120.5 277.18,121.22 278.44,120.6 279.69,119.18 280.95,117.81 282.2,117.33 283.46,118.27 284.71,120.63 285.97,123.88 287.22,127.15 288.48,129.6 289.73,130.68 290.99,130.39 292.24,129.25 293.5,128.13 294.75,127.86 296,128.97 297.26,131.45 298.51,134.78 299.77,138.09 301.02,140.53 302.28,141.56 303.54,141.18 304.79,139.91 306.05,138.61 307.3,138.12 308.56,138.97 309.81,141.16 311.07,144.15 312.32,147.09 313.58,149.12 314.83,149.71 316.09,148.85 317.34,147.08 318.6,145.24 319.85,144.2 321.11,144.46 322.36,146.05 323.62,148.41 324.87,150.71 326.12,152.09 327.38,152.01 328.63,150.48 329.89,148.02 331.15,145.5 332.4,143.77 333.66,143.35 334.91,144.25 336.17,145.94 337.42,147.58 338.68,148.3 339.93,147.58 341.19,145.43 342.44,142.38 343.7,139.28 344.95,136.99 346.21,136.05 347.46,136.45 348.72,137.68 349.97,138.88 351.23,139.2 352.48,138.12 353.74,135.65 354.99,132.31 356.25,128.96 357.5,126.46 358.75,125.35 360.01,125.64 361.26,126.78 362.52,127.94 363.78,128.27 365.03,127.24 366.29,124.86 367.54,121.65 368.8,118.48 370.05,116.2 371.31,115.35 372.56,115.93 373.81,117.41 375.07,118.95 376.32,119.68 377.58,119.09 378.84,117.18 380.09,114.48 381.35,111.84 382.6,110.12 383.86,109.86 385.11,111.04 386.37,113.15 387.62,115.32 388.88,116.71 390.13,116.79 391.39,115.56 392.64,113.54 393.9,111.59 395.15,110.56 396.41,110.97 397.66,112.84 398.92,115.62 400.17,118.46 401.43,120.5 402.68,121.22 403.94,120.6 405.19,119.18 406.45,117.81 407.7,117.33 408.96,118.27 410.21,120.63 411.47,123.88 412.72,127.15 413.98,129.6 415.23,130.68 416.49,130.39 417.74,129.25 419,128.13 420.25,127.86 421.51,128.97 422.76,131.45 424.02,134.78 425.27,138.09 426.53,140.53 427.78,141.56 429.04,141.18 430.29,139.91 431.55,138.61 432.8,138.12 434.06,138.97 435.31,141.16 436.57,144.15 437.82,147.09 439.08,149.12 440.33,149.71 441.59,148.85 442.84,147.08 444.1,145.24 445.35,144.2 446.61,144.46 447.86,146.05 449.12,148.41 450.37,150.71 451.62,152.09 452.88,152.01 454.14,150.48 455.39,148.02 456.65,145.5 457.9,143.77 459.16,143.35 460.41,144.25 461.67,145.94 462.92,147.58 464.18,148.3 465.43,147.58 466.69,145.43 467.94,142.38 469.2,139.28 470.45,136.99 471.71,136.05 472.96,136.45 474.22,137.68 475.47,138.88 476.73,139.2 477.98,138.12 479.24,135.65 480.49,132.31 481.75,128.96 483,126.46 484.26,125.35 485.51,125.64 486.77,126.78 488.02,127.94 489.28,128.27 490.53,127.24 491.79,124.86 493.04,121.65 494.3,118.48 495.55,116.2 496.81,115.35 498.06,115.93 499.32,117.41 500.57,118.95 501.83,119.68 503.08,119.09 504.34,117.18 505.59,114.48 506.85,111.84 508.1,110.12 509.36,109.86 510.61,111.04 511.87,113.15 513.12,115.32 514.38,116.71 515.63,116.79 516.88,115.56 518.14,113.54 519.39,111.59 520.65,110.56 521.9,110.97 523.16,112.84 524.42,115.62 525.67,118.46 526.92,120.5 528.18,121.22 529.44,120.6 530.69,119.18 531.94,117.81 533.2,117.33 534.46,118.27 535.71,120.63 536.97,123.88 538.22,127.15 539.48,129.6 540.73,130.68 541.99,130.39 543.24,129.25 544.5,128.13 545.75,127.86 547.01,128.97 548.26,131.45 549.52,134.78 550.77,138.09 552.03,140.53 553.28,141.56 554.54,141.18 555.79,139.91 557.05,138.61 558.3,138.12 559.56,138.97 560.81,141.16 562.07,144.15 563.32,147.09 564.58,149.12 565.83,149.71 567.09,148.85 568.34,147.08 569.6,145.24 570.85,144.2 572.11,144.46 573.36,146.05 574.62,148.41 575.87,150.71 577.12,152.09 578.38,152.01 579.63,150.48 580.89,148.02 582.14,145.5 583.4,143.77 584.65,143.35 585.91,144.25 587.17,145.94 588.42,147.58 589.67,148.3 590.93,147.58 592.19,145.43 593.44,142.38 594.7,139.28 595.95,136.99 597.21,136.05 598.46,136.45 599.72,137.68 600.97,138.88 602.23,139.2 603.48,138.12 604.74,135.65 605.99,132.31 607.25,128.96 608.5,126.46 609.76,125.35"/>
<polygon fill="#000" points="106.5,155.4 106.5,139.32 107.75,138.56 109.01,139.23 110.27,140.82 111.52,142.47 112.78,143.32 114.03,142.85 115.28,141.06 116.54,138.48 117.8,135.97 119.05,134.39 120.31,134.25 121.56,135.57 122.81,137.81 124.07,140.12 125.33,141.65 126.58,141.86 127.84,140.76 129.09,138.87 130.34,137.05 131.6,136.14 132.86,136.68 134.11,138.66 135.37,141.56 136.62,144.51 137.88,146.65 139.13,147.47 140.38,146.94 141.64,145.61 142.9,144.31 144.15,143.91 145.41,144.92 146.66,147.33 147.92,150.63 149.17,153.94 149.96,155.4"/>
<polygon fill="#000" points="154.89,155.4 155.44,155 156.7,154.72 157.6,155.4"/>
<polygon fill="#000" points="216.71,155.4 216.94,154.87 218.19,151.53 219.45,149.04 220.7,147.95 221.96,148.26 223.22,149.44 224.47,150.64 225.73,151.02 226.98,150.05 228.24,147.73 229.49,144.6 230.75,141.51 232,139.32 233.26,138.56 234.51,139.23 235.77,140.82 237.02,142.47 238.28,143.32 239.53,142.85 240.79,141.06 242.04,138.48 243.3,135.97 244.55,134.39 245.81,134.25 247.06,135.57 248.32,137.81 249.57,140.12 250.83,141.65 252.08,141.86 253.34,140.76 254.59,138.87 255.84,137.05 257.1,136.14 258.36,136.68 259.61,138.66 260.87,141.56 262.12,144.51 263.38,146.65 264.63,147.47 265.88,146.94 267.14,145.61 268.39,144.31 269.65,143.91 270.91,144.92 272.16,147.33 273.42,150.63 274.67,153.94 275.46,155.4"/>
<polygon fill="#000" points="280.39,155.4 280.95,155 282.2,154.72 283.1,155.4"/>
<polygon fill="#000" points="342.21,155.4 342.44,154.87 343.7,151.53 344.95,149.04 346.21,147.95 347.46,148.26 348.72,149.44 349.97,150.64 351.23,151.02 352.48,150.05 353.74,147.73 354.99,144.6 356.25,141.51 357.5,139.32 358.75,138.56 360.01,139.23 361.26,140.82 362.52,142.47 363.78,143.32 365.03,142.85 366.29,141.06 367.54,138.48 368.8,135.97 370.05,134.39 371.31,134.25 372.56,135.57 373.81,137.81 375.07,140.12 376.32,141.65 377.58,141.86 378.84,140.76 380.09,138.87 381.35,137.05 382.6,136.14 383.86,136.68 385.11,138.66 386.37,141.56 387.62,144.51 388.88,146.65 390.13,147.47 391.39,146.94 392.64,145.61 393.9,144.31 395.15,143.91 396.41,144.92 397.66,147.33 398.92,150.63 400.17,153.94 400.96,155.4"/>
<polygon fill="#000" points="405.89,155.4 406.45,155 407.7,154.72 408.6,155.4"/>
<polygon fill="#000" points="467.71,155.4 467.94,154.87 469.2,151.53 470.45,149.04 471.71,147.95 472.96,148.26 474.22,149.44 475.47,150.64 476.73,151.02 477.98,150.05 479.24,147.73 480.49,144.6 481.75,141.51 483,139.32 484.26,138.56 485.51,139.23 486.77,140.82 488.02,142.47 489.28,143.32 490.53,142.85 491.79,141.06 493.04,138.48 494.3,135.97 495.55,134.39 496.81,134.25 498.06,135.57 499.32,137.81 500.57,140.12 501.83,141.65 503.08,141.86 504.34,140.76 505.59,138.87 506.85,137.05 508.1,136.14 509.36,136.68 510.61,138.66 511.87,141.56 513.12,144.51 514.38,146.65 515.63,147.47 516.88,146.94 518.14,145.61 519.39,144.31 520.65,143.91 521.9,144.92 523.16,147.33 524.42,150.63 525.67,153.94 526.46,155.4"/>
<polygon fill="#000" points="531.39,155.4 531.94,155 533.2,154.72 534.1,155.4"/>
<polygon fill="#000" points="593.21,155.4 593.44,154.87 594.7,151.53 595.95,149.04 597.21,147.95 598.46,148.26 599.72,149.44 600.97,150.64 602.23,151.02 603.48,150.05 604.74,147.73 605.99,144.6 607.25,141.51 608.5,139.32 609.76,138.56 609.76,155.4"/>
<polyline fill="none" points="106.5,139.32 107.75,138.56 109.01,139.23 110.27,140.82 111.52,142.47 112.78,143.32 114.03,142.85 115.28,141.06 116.54,138.48 117.8,135.97 119.05,134.39 120.31,134.25 121.56,135.57 122.81,137.81 124.07,140.12 125.33,141.65 126.58,141.86 127.84,140.76 129.09,138.87 130.34,137.05 131.6,136.14 132.86,136.68 134.11,138.66 135.37,141.56 136.62,144.51 137.88,146.65 139.13,147.47 140.38,146.94 141.64,145.61 142.9,144.31 144.15,143.91 145.41,144.92 146.66,147.33 147.92,150.63 149.17,153.94 150.43,156.42 151.68,157.52 152.94,157.25 154.19,156.13 155.44,155 156.7,154.72 157.96,155.81 159.21,158.27 160.47,161.56 161.72,164.83 162.97,167.22 164.23,168.19 165.49,167.74 166.74,166.4 168,165.02 169.25,164.45 170.5,165.2 171.76,167.29 173.02,170.18 174.27,173.01 175.53,174.92 176.78,175.39 178.04,174.41 179.29,172.52 180.55,170.55 181.8,169.37 183.06,169.51 184.31,170.96 185.56,173.19 186.82,175.35 188.07,176.59 189.33,176.38 190.59,174.71 191.84,172.13 193.1,169.48 194.35,167.62 195.61,167.08 196.86,167.86 198.12,169.44 199.37,170.97 200.62,171.59 201.88,170.77 203.13,168.53 204.39,165.39 205.65,162.21 206.9,159.85 208.16,158.85 209.41,159.19 210.67,160.37 211.92,161.53 213.18,161.82 214.43,160.71 215.69,158.22 216.94,154.87 218.19,151.53 219.45,149.04 220.7,147.95 221.96,148.26 223.22,149.44 224.47,150.64 225.73,151.02 226.98,150.05 228.24,147.73 229.49,144.6 230.75,141.51 232,139.32 233.26,138.56 234.51,139.23 235.77,140.82 237.02,142.47 238.28,143.32 239.53,142.85 240.79,141.06 242.04,138.48 243.3,135.97 244.55,134.39 245.81,134.25 247.06,135.57 248.32,137.81 249.57,140.12 250.83,141.65 252.08,141.86 253.34,140.76 254.59,138.87 255.84,137.05 257.1,136.14 258.36,136.68 259.61,138.66 260.87,141.56 262.12,144.51 263.38,146.65 264.63,147.47 265.88,146.94 267.14,145.61 268.39,144.31 269.65,143.91 270.91,144.92 272.16,147.33 273.42,150.63 274.67,153.94 275.93,156.42 277.18,157.52 278.44,157.25 279.69,156.13 280.95,155 282.2,154.72 283.46,155.81 284.71,158.27 285.97,161.56 287.22,164.83 288.48,167.22 289.73,168.19 290.99,167.74 292.24,166.4 293.5,165.02 294.75,164.45 296,165.2 297.26,167.29 298.51,170.18 299.77,173.01 301.02,174.92 302.28,175.39 303.54,174.41 304.79,172.52 306.05,170.55 307.3,169.37 308.56,169.51 309.81,170.96 311.07,173.19 312.32,175.35 313.58,176.59 314.83,176.38 316.09,174.71 317.34,172.13 318.6,169.48 319.85,167.62 321.11,167.08 322.36,167.86 323.62,169.44 324.87,170.97 326.12,171.59 327.38,170.77 328.63,168.53 329.89,165.39 331.15,162.21 332.4,159.85 333.66,158.85 334.91,159.19 336.17,160.37 337.42,161.53 338.68,161.82 339.93,160.71 341.19,158.22 342.44,154.87 343.7,151.53 344.95,149.04 346.21,147.95 347.46,148.26 348.72,149.44 349.97,150.64 351.23,151.02 352.48,150.05 353.74,147.73 354.99,144.6 356.25,141.51 357.5,139.32 358.75,138.56 360.01,139.23 361.26,140.82 362.52,142.47 363.78,143.32 365.03,142.85 366.29,141.06 367.54,138.48 368.8,135.97 370.05,134.39 371.31,134.25 372.56,135.57 373.81,137.81 375.07,140.12 376.32,141.65 377.58,141.86 378.84,140.76 380.09,138.87 381.35,137.05 382.6,136.14 383.86,136.68 385.11,138.66 386.37,141.56 387.62,144.51 388.88,146.65 390.13,147.47 391.39,146.94 392.64,145.61 393.9,144.31 395.15,143.91 396.41,144.92 397.66,147.33 398.92,150.63 400.17,153.94 401.43,156.42 402.68,157.52 403.94,157.25 405.19,156.13 406.45,155 407.7,154.72 408.96,155.81 410.21,158.27 411.47,161.56 412.72,164.83 413.98,167.22 415.23,168.19 416.49,167.74 417.74,166.4 419,165.02 420.25,164.45 421.51,165.2 422.76,167.29 424.02,170.18 425.27,173.01 426.53,174.92 427.78,175.39 429.04,174.41 430.29,172.52 431.55,170.55 432.8,169.37 434.06,169.51 435.31,170.96 436.57,173.19 437.82,175.35 439.08,176.59 440.33,176.38 441.59,174.71 442.84,172.13 444.1,169.48 445.35,167.62 446.61,167.08 447.86,167.86 449.12,169.44 450.37,170.97 451.62,171.59 452.88,170.77 454.14,168.53 455.39,165.39 456.65,162.21 457.9,159.85 459.16,158.85 460.41,159.19 461.67,160.37 462.92,161.53 464.18,161.82 465.43,160.71 466.69,158.22 467.94,154.87 469.2,151.53 470.45,149.04 471.71,147.95 472.96,148.26 474.22,149.44 475.47,150.64 476.73,151.02 477.98,150.05 479.24,147.73 480.49,144.6 481.75,141.51 483,139.32 484.26,138.56 485.51,139.23 486.77,140.82 488.02,142.47 489.28,143.32 490.53,142.85 491.79,141.06 493.04,138.48 494.3,135.97 495.55,134.39 496.81,134.25 498.06,135.57 499.32,137.81 500.57,140.12 501.83,141.65 503.08,141.86 504.34,140.76 505.59,138.87 506.85,137.05 508.1,136.14 509.36,136.68 510.61,138.66 511.87,141.56 513.12,144.51 514.38,146.65 515.63,147.47 516.88,146.94 518.14,145.61 519.39,144.31 520.65,143.91 521.9,144.92 523.16,147.33 524.42,150.63 525.67,153.94 526.92,156.42 528.18,157.52 529.44,157.25 530.69,156.13 531.94,155 533.2,154.72 534.46,155.81 535.71,158.27 536.97,161.56 538.22,164.83 539.48,167.22 540.73,168.19 541.99,167.74 543.24,166.4 544.5,165.02 545.75,164.45 547.01,165.2 548.26,167.29 549.52,170.18 550.77,173.01 552.03,174.92 553.28,175.39 554.54,174.41 555.79,172.52 557.05,170.55 558.3,169.37 559.56,169.51 560.81,170.96 562.07,173.19 563.32,175.35 564.58,176.59 565.83,176.38 567.09,174.71 568.34,172.13 569.6,169.48 570.85,167.62 572.11,167.08 573.36,167.86 574.62,169.44 575.87,170.97 577.12,171.59 578.38,170.77 579.63,168.53 580.89,165.39 582.14,162.21 583.4,159.85 584.65,158.85 585.91,159.19 587.17,160.37 588.42,161.53 589.67,161.82 590.93,160.71 592.19,158.22 593.44,154.87 594.7,151.53 595.95,149.04 597.21,147.95 598.46,148.26 599.72,149.44 600.97,150.64 602.23,151.02 603.48,150.05 604.74,147.73 605.99,144.6 607.25,141.51 608.5,139.32 609.76,138.56"/>
<polygon fill="#000" points="106.5,180.4 106.5,158.91 107.75,158.91 109.01,160.36 110.27,162.74 111.52,165.18 112.78,166.84 114.03,167.19 115.28,166.21 116.54,164.45 117.8,162.75 119.05,161.96 120.31,162.62 121.56,164.71 122.81,167.7 124.07,170.75 125.33,172.99 126.58,173.89 127.84,173.45 129.09,172.18 130.34,170.95 131.6,170.61 132.86,171.66 134.11,174.12 135.37,177.45 136.41,180.4"/>
<polygon fill="#000" points="203.35,180.4 204.39,177.45 205.65,174.12 206.9,171.66 208.16,170.61 209.41,170.95 210.67,172.18 211.92,173.45 213.18,173.89 214.43,172.99 215.69,170.75 216.94,167.7 218.19,164.71 219.45,162.62 220.7,161.96 221.96,162.75 223.22,164.45 224.47,166.21 225.73,167.19 226.98,166.84 228.24,165.18 229.49,162.74 230.75,160.36 232,158.91 233.26,158.91 234.51,160.36 235.77,162.74 237.02,165.18 238.28,166.84 239.53,167.19 240.79,166.21 242.04,164.45 243.3,162.75 244.55,161.96 245.81,162.62 247.06,164.71 248.32,167.7 249.57,170.75 250.83,172.99 252.08,173.89 253.34,173.45 254.59,172.18 255.84,170.95 257.1,170.61 258.36,171.66 259.61,174.12 260.87,177.45 261.91,180.4"/>
<polygon fill="#000" points="328.85,180.4 329.89,177.45 331.15,174.12 332.4,171.66 333.66,170.61 334.91,170.95 336.17,172.18 337.42,173.45 338.68,173.89 339.93,172.99 341.19,170.75 342.44,167.7 343.7,164.71 344.95,162.62 346.21,161.96 347.46,162.75 348.72,164.45 349.97,166.21 351.23,167.19 352.48,166.84 353.74,165.18 354.99,162.74 356.25,160.36 357.5,158.91 358.75,158.91 360.01,160.36 361.26,162.74 362.52,165.18 363.78,166.84 365.03,167.19 366.29,166.21 367.54,164.45 368.8,162.75 370.05,161.96 371.31,162.62 372.56,164.71 373.81,167.7 375.07,170.75 376.32,172.99 377.58,173.89 378.84,173.45 380.09,172.18 381.35,170.95 382.6,170.61 383.86,171.66 385.11,174.12 386.37,177.45 387.41,180.4"/>
<polygon fill="#000" points="454.35,180.4 455.39,177.45 456.65,174.12 457.9,171.66 459.16,170.61 460.41,170.95 461.67,172.18 462.92,173.45 464.18,173.89 465.43,172.99 466.69,170.75 467.94,167.7 469.2,164.71 470.45,162.62 471.71,161.96 472.96,162.75 474.22,164.45 475.47,166.21 476.73,167.19 477.98,166.84 479.24,165.18 480.49,162.74 481.75,160.36 483,158.91 484.26,158.91 485.51,160.36 486.77,162.74 488.02,165.18 489.28,166.84 490.53,167.19 491.79,166.21 493.04,164.45 494.3,162.75 495.55,161.96 496.81,162.62 498.06,164.71 499.32,167.7 500.57,170.75 501.83,172.99 503.08,173.89 504.34,173.45 505.59,172.18 506.85,170.95 508.1,170.61 509.36,171.66 510.61,174.12 511.87,177.45 512.91,180.4"/>
<polygon fill="#000" points="579.85,180.4 580.89,177.45 582.14,174.12 583.4,171.66 584.65,170.61 585.91,170.95 587.17,172.18 588.42,173.45 589.67,173.89 590.93,172.99 592.19,170.75 593.44,167.7 594.7,164.71 595.95,162.62 597.21,161.96 598.46,162.75 599.72,164.45 600.97,166.21 602.23,167.19 603.48,166.84 604.74,165.18 605.99,162.74 607.25,160.36 608.5,158.91 609.76,158.91 609.76,180.4"/>
<polyline fill="none" points="106.5,158.91 107.75,158.91 109.01,160.36 110.27,162.74 111.52,165.18 112.78,166.84 114.03,167.19 115.28,166.21 116.54,164.45 117.8,162.75 119.05,161.96 120.31,162.62 121.56,164.71 122.81,167.7 124.07,170.75 125.33,172.99 126.58,173.89 127.84,173.45 129.09,172.18 130.34,170.95 131.6,170.61 132.86,171.66 134.11,174.12 135.37,177.45 136.62,180.79 137.88,183.28 139.13,184.4 140.38,184.12 141.64,182.99 142.9,181.84 144.15,181.54 145.41,182.6 146.66,185.01 147.92,188.26 149.17,191.47 150.43,193.79 151.68,194.69 152.94,194.16 154.19,192.74 155.44,191.26 156.7,190.59 157.96,191.24 159.21,193.22 160.47,195.99 161.72,198.7 162.97,200.49 164.23,200.84 165.49,199.73 166.74,197.7 168,195.6 169.25,194.29 170.5,194.29 171.76,195.6 173.02,197.7 174.27,199.73 175.53,200.84 176.78,200.49 178.04,198.7 179.29,195.99 180.55,193.22 181.8,191.24 183.06,190.59 184.31,191.26 185.56,192.74 186.82,194.16 188.07,194.69 189.33,193.79 190.59,191.47 191.84,188.26 193.1,185.01 194.35,182.6 195.61,181.54 196.86,181.84 198.12,182.99 199.37,184.12 200.62,184.4 201.88,183.28 203.13,180.79 204.39,177.45 205.65,174.12 206.9,171.66 208.16,170.61 209.41,170.95 210.67,172.18 211.92,173.45 213.18,173.89 214.43,172.99 215.69,170.75 216.94,167.7 218.19,164.71 219.45,162.62 220.7,161.96 221.96,162.75 223.22,164.45 224.47,166.21 225.73,167.19 226.98,166.84 228.24,165.18 229.49,162.74 230.75,160.36 232,158.91 233.26,158.91 234.51,160.36 235.77,162.74 237.02,165.18 238.28,166.84 239.53,167.19 240.79,166.21 242.04,164.45 243.3,162.75 244.55,161.96 245.81,162.62 247.06,164.71 248.32,167.7 249.57,170.75 250.83,172.99 252.08,173.89 253.34,173.45 254.59,172.18 255.84,170.95 257.1,170.61 258.36,171.66 259.61,174.12 260.87,177.45 262.12,180.79 263.38,183.28 264.63,184.4 265.88,184.12 267.14,182.99 268.39,181.84 269.65,181.54 270.91,182.6 272.16,185.01 273.42,188.26 274.67,191.47 275.93,193.79 277.18,194.69 278.44,194.16 279.69,192.74 280.95,191.26 282.2,190.59 283.46,191.24 284.71,193.22 285.97,195.99 287.22,198.7 288.48,200.49 289.73,200.84 290.99,199.73 292.24,197.7 293.5,195.6 294.75,194.29 296,194.29 297.26,195.6 298.51,197.7 299.77,199.73 301.02,200.84 302.28,200.49 303.54,198.7 304.79,195.99 306.05,193.22 307.3,191.24 308.56,190.59 309.81,191.26 311.07,192.74 312.32,194.16 313.58,194.69 314.83,193.79 316.09,191.47 317.34,188.26 318.6,185.01 319.85,182.6 321.11,181.54 322.36,181.84 323.62,182.99 324.87,184.12 326.12,184.4 327.38,183.28 328.63,180.79 329.89,177.45 331.15,174.12 332.4,171.66 333.66,170.61 334.91,170.95 336.17,172.18 337.42,173.45 338.68,173.89 339.93,172.99 341.19,170.75 342.44,167.7 343.7,164.71 344.95,162.62 346.21,161.96 347.46,162.75 348.72,164.45 349.97,166.21 351.23,167.19 352.48,166.84 353.74,165.18 354.99,162.74 356.25,160.36 357.5,158.91 358.75,158.91 360.01,160.36 361.26,162.74 362.52,165.18 363.78,166.84 365.03,167.19 366.29,166.21 367.54,164.45 368.8,162.75 370.05,161.96 371.31,162.62 372.56,164.71 373.81,167.7 375.07,170.75 376.32,172.99 377.58,173.89 378.84,173.45 380.09,172.18 381.35,170.95 382.6,170.61 383.86,171.66 385.11,174.12 386.37,177.45 387.62,180.79 388.88,183.28 390.13,184.4 391.39,184.12 392.64,182.99 393.9,181.84 395.15,181.54 396.41,182.6 397.66,185.01 398.92,188.26 400.17,191.47 401.43,193.79 402.68,194.69 403.94,194.16 405.19,192.74 406.45,191.26 407.7,190.59 408.96,191.24 410.21,193.22 411.47,195.99 412.72,198.7 413.98,200.49 415.23,200.84 416.49,199.73 417.74,197.7 419,195.6 420.25,194.29 421.51,194.29 422.76,195.6 424.02,197.7 425.27,199.73 426.53,200.84 427.78,200.49 429.04,198.7 430.29,195.99 431.55,193.22 432.8,191.24 434.06,190.59 435.31,191.26 436.57,192.74 437.82,194.16 439.08,194.69 440.33,193.79 441.59,191.47 442.84,188.26 444.1,185.01 445.35,182.6 446.61,181.54 447.86,181.84 449.12,182.99 450.37,184.12 451.62,184.4 452.88,183.28 454.14,180.79 455.39,177.45 456.65,174.12 457.9,171.66 459.16,170.61 460.41,170.95 461.67,172.18 462.92,173.45 464.18,173.89 465.43,172.99 466.69,170.75 467.94,167.7 469.2,164.71 470.45,162.62 471.71,161.96 472.96,162.75 474.22,164.45 475.47,166.21 476.73,167.19 477.98,166.84 479.24,165.18 480.49,162.74 481.75,160.36 483,158.91 484.26,158.91 485.51,160.36 486.77,162.74 488.02,165.18 489.28,166.84 490.53,167.19 491.79,166.21 493.04,164.45 494.3,162.75 495.55,161.96 496.81,162.62 498.06,164.71 499.32,167.7 500.57,170.75 501.83,172.99 503.08,173.89 504.34,173.45 505.59,172.18 506.85,170.95 508.1,170.61 509.36,171.66 510.61,174.12 511.87,177.45 513.12,180.79 514.38,183.28 515.63,184.4 516.88,184.12 518.14,182.99 519.39,181.84 520.65,181.54 521.9,182.6 523.16,185.01 524.42,188.26 525.67,191.47 526.92,193.79 528.18,194.69 529.44,194.16 530.69,192.74 531.94,191.26 533.2,190.59 534.46,191.24 535.71,193.22 536.97,195.99 538.22,198.7 539.48,200.49 540.73,200.84 541.99,199.73 543.24,197.7 544.5,195.6 545.75,194.29 547.01,194.29 548.26,195.6 549.52,197.7 550.77,199.73 552.03,200.84 553.28,200.49 554.54,198.7 555.79,195.99 557.05,193.22 558.3,191.24 559.56,190.59 560.81,191.26 562.07,192.74 563.32,194.16 564.58,194.69 565.83,193.79 567.09,191.47 568.34,188.26 569.6,185.01 570.85,182.6 572.11,181.54 573.36,181.84 574.62,182.99 575.87,184.12 577.12,184.4 578.38,183.28 579.63,180.79 580.89,177.45 582.14,174.12 583.4,171.66 584.65,170.61 585.91,170.95 587.17,172.18 588.42,173.45 589.67,173.89 590.93,172.99 592.19,170.75 593.44,167.7 594.7,164.71 595.95,162.62 597.21,161.96 598.46,162.75 599.72,164.45 600.97,166.21 602.23,167.19 603.48,166.84 604.74,165.18 605.99,162.74 607.25,160.36 608.5,158.91 609.76,158.91"/>
<polygon fill="#000" points="106.5,204.4 106.5,188 107.75,188.76 109.01,190.95 110.27,194.04 111.52,197.17 112.78,199.49 114.03,200.46 115.28,200.08 116.54,198.88 117.8,197.7 119.05,197.39 120.31,198.48 121.56,200.97 122.81,204.31 123.05,204.4"/>
<polygon fill="#000" points="182.16,204.4 183.06,204.16 184.31,204.44 184.87,204.4"/>
<polygon fill="#000" points="189.8,204.4 190.59,203.38 191.84,200.07 193.1,196.77 194.35,194.36 195.61,193.35 196.86,193.75 198.12,195.05 199.37,196.38 200.62,196.91 201.88,196.09 203.13,193.95 204.39,191 205.65,188.1 206.9,186.12 208.16,185.58 209.41,186.49 210.67,188.31 211.92,190.2 213.18,191.3 214.43,191.09 215.69,189.56 216.94,187.25 218.19,185.01 219.45,183.69 220.7,183.83 221.96,185.41 223.22,187.92 224.47,190.5 225.73,192.29 226.98,192.76 228.24,191.91 229.49,190.26 230.75,188.67 232,188 233.26,188.76 234.51,190.95 235.77,194.04 237.02,197.17 238.28,199.49 239.53,200.46 240.79,200.08 242.04,198.88 243.3,197.7 244.55,197.39 245.81,198.48 247.06,200.97 248.32,204.31 248.55,204.4"/>
<polygon fill="#000" points="307.66,204.4 308.56,204.16 309.81,204.44 310.37,204.4"/>
<polygon fill="#000" points="315.3,204.4 316.09,203.38 317.34,200.07 318.6,196.77 319.85,194.36 321.11,193.35 322.36,193.75 323.62,195.05 324.87,196.38 326.12,196.91 327.38,196.09 328.63,193.95 329.89,191 331.15,188.1 332.4,186.12 333.66,185.58 334.91,186.49 336.17,188.31 337.42,190.2 338.68,191.3 339.93,191.09 341.19,189.56 342.44,187.25 343.7,185.01 344.95,183.69 346.21,183.83 347.46,185.41 348.72,187.92 349.97,190.5 351.23,192.29 352.48,192.76 353.74,191.91 354.99,190.26 356.25,188.67 357.5,188 358.75,188.76 360.01,190.95 361.26,194.04 362.52,197.17 363.78,199.49 365.03,200.46 366.29,200.08 367.54,198.88 368.8,197.7 370.05,197.39 371.31,198.48 372.56,200.97 373.81,204.31 374.05,204.4"/>
<polygon fill="#000" points="433.16,204.4 434.06,204.16 435.31,204.44 435.87,204.4"/>
<polygon fill="#000" points="440.8,204.4 441.59,203.38 442.84,200.07 444.1,196.77 445.35,194.36 446.61,193.35 447.86,193.75 449.12,195.05 450.37,196.38 451.62,196.91 452.88,196.09 454.14,193.95 455.39,191 456.65,188.1 457.9,186.12 459.16,185.58 460.41,186.49 461.67,188.31 462.92,190.2 464.18,191.3 465.43,191.09 466.69,189.56 467.94,187.25 469.2,185.01 470.45,183.69 471.71,183.83 472.96,185.41 474.22,187.92 475.47,190.5 476.73,192.29 477.98,192.76 479.24,191.91 480.49,190.26 481.75,188.67 483,188 484.26,188.76 485.51,190.95 486.77,194.04 488.02,197.17 489.28,199.49 490.53,200.46 491.79,200.08 493.04,198.88 494.3,197.7 495.55,197.39 496.81,198.48 498.06,200.97 499.32,204.31 499.55,204.4"/>
<polygon fill="#000" points="558.66,204.4 559.56,204.16 560.81,204.44 561.37,204.4"/>
<polygon fill="#000" points="566.3,204.4 567.09,203.38 568.34,200.07 569.6,196.77 570.85,194.36 572.11,193.35 573.36,193.75 574.62,195.05 575.87,196.38 577.12,196.91 578.38,196.09 579.63,193.95 580.89,191 582.14,188.1 583.4,186.12 584.65,185.58 585.91,186.49 587.17,188.31 588.42,190.2 589.67,191.3 590.93,191.09 592.19,189.56 593.44,187.25 594.7,185.01 595.95,183.69 597.21,183.83 598.46,185.41 599.72,187.92 600.97,190.5 602.23,192.29 603.48,192.76 604.74,191.91 605.99,190.26 607.25,188.67 608.5,188 609.76,188.76 609.76,204.4"/>
<polyline fill="none" points="106.5,188 107.75,188.76 109.01,190.95 110.27,194.04 111.52,197.17 112.78,199.49 114.03,200.46 115.28,200.08 116.54,198.88 117.8,197.7 119.05,197.39 120.31,198.48 121.56,200.97 122.81,204.31 124.07,207.66 125.33,210.15 126.58,211.26 127.84,210.97 129.09,209.81 130.34,208.63 131.6,208.29 132.86,209.29 134.11,211.65 135.37,214.83 136.62,217.97 137.88,220.21 139.13,221.03 140.38,220.41 141.64,218.88 142.9,217.3 144.15,216.52 145.41,217.06 146.66,218.92 147.92,221.57 149.17,224.15 150.43,225.82 151.68,226.03 152.94,224.79 154.19,222.63 155.44,220.4 156.7,218.95 157.96,218.81 159.21,219.99 160.47,221.96 161.72,223.85 162.97,224.83 164.23,224.36 165.49,222.45 166.74,219.62 168,216.73 169.25,214.64 170.5,213.89 171.76,214.46 173.02,215.84 174.27,217.18 175.53,217.63 176.78,216.66 178.04,214.27 179.29,211 180.55,207.71 181.8,205.25 183.06,204.16 184.31,204.44 185.56,205.57 186.82,206.69 188.07,206.96 189.33,205.86 190.59,203.38 191.84,200.07 193.1,196.77 194.35,194.36 195.61,193.35 196.86,193.75 198.12,195.05 199.37,196.38 200.62,196.91 201.88,196.09 203.13,193.95 204.39,191 205.65,188.1 206.9,186.12 208.16,185.58 209.41,186.49 210.67,188.31 211.92,190.2 213.18,191.3 214.43,191.09 215.69,189.56 216.94,187.25 218.19,185.01 219.45,183.69 220.7,183.83 221.96,185.41 223.22,187.92 224.47,190.5 225.73,192.29 226.98,192.76 228.24,191.91 229.49,190.26 230.75,188.67 232,188 233.26,188.76 234.51,190.95 235.77,194.04 237.02,197.17 238.28,199.49 239.53,200.46 240.79,200.08 242.04,198.88 243.3,197.7 244.55,197.39 245.81,198.48 247.06,200.97 248.32,204.31 249.57,207.66 250.83,210.15 252.08,211.26 253.34,210.97 254.59,209.81 255.84,208.63 257.1,208.29 258.36,209.29 259.61,211.65 260.87,214.83 262.12,217.97 263.38,220.21 264.63,221.03 265.88,220.41 267.14,218.88 268.39,217.3 269.65,216.52 270.91,217.06 272.16,218.92 273.42,221.57 274.67,224.15 275.93,225.82 277.18,226.03 278.44,224.79 279.69,222.63 280.95,220.4 282.2,218.95 283.46,218.81 284.71,219.99 285.97,221.96 287.22,223.85 288.48,224.83 289.73,224.36 290.99,222.45 292.24,219.62 293.5,216.73 294.75,214.64 296,213.89 297.26,214.46 298.51,215.84 299.77,217.18 301.02,217.63 302.28,216.66 303.54,214.27 304.79,211 306.05,207.71 307.3,205.25 308.56,204.16 309.81,204.44 311.07,205.57 312.32,206.69 313.58,206.96 314.83,205.86 316.09,203.38 317.34,200.07 318.6,196.77 319.85,194.36 321.11,193.35 322.36,193.75 323.62,195.05 324.87,196.38 326.12,196.91 327.38,196.09 328.63,193.95 329.89,191 331.15,188.1 332.4,186.12 333.66,185.58 334.91,186.49 336.17,188.31 337.42,190.2 338.68,191.3 339.93,191.09 341.19,189.56 342.44,187.25 343.7,185.01 344.95,183.69 346.21,183.83 347.46,185.41 348.72,187.92 349.97,190.5 351.23,192.29 352.48,192.76 353.74,191.91 354.99,190.26 356.25,188.67 357.5,188 358.75,188.76 360.01,190.95 361.26,194.04 362.52,197.17 363.78,199.49 365.03,200.46 366.29,200.08 367.54,198.88 368.8,197.7 370.05,197.39 371.31,198.48 372.56,200.97 373.81,204.31 375.07,207.66 376.32,210.15 377.58,211.26 378.84,210.97 380.09,209.81 381.35,208.63 382.6,208.29 383.86,209.29 385.11,211.65 386.37,214.83 387.62,217.97 388.88,220.21 390.13,221.03 391.39,220.41 392.64,218.88 393.9,217.3 395.15,216.52 396.41,217.06 397.66,218.92 398.92,221.57 400.17,224.15 401.43,225.82 402.68,226.03 403.94,224.79 405.19,222.63 406.45,220.4 407.7,218.95 408.96,218.81 410.21,219.99 411.47,221.96 412.72,223.85 413.98,224.83 415.23,224.36 416.49,222.45 417.74,219.62 419,216.73 420.25,214.64 421.51,213.89 422.76,214.46 424.02,215.84 425.27,217.18 426.53,217.63 427.78,216.66 429.04,214.27 430.29,211 431.55,207.71 432.8,205.25 434.06,204.16 435.31,204.44 436.57,205.57 437.82,206.69 439.08,206.96 440.33,205.86 441.59,203.38 442.84,200.07 444.1,196.77 445.35,194.36 446.61,193.35 447.86,193.75 449.12,195.05 450.37,196.38 451.62,196.91 452.88,196.09 454.14,193.95 455.39,191 456.65,188.1 457.9,186.12 459.16,185.58 460.41,186.49 461.67,188.31 462.92,190.2 464.18,191.3 465.43,191.09 466.69,189.56 467.94,187.25 469.2,185.01 470.45,183.69 471.71,183.83 472.96,185.41 474.22,187.92 475.47,190.5 476.73,192.29 477.98,192.76 479.24,191.91 480.49,190.26 481.75,188.67 483,188 484.26,188.76 485.51,190.95 486.77,194.04 488.02,197.17 489.28,199.49 490.53,200.46 491.79,200.08 493.04,198.88 494.3,197.7 495.55,197.39 496.81,198.48 498.06,200.97 499.32,204.31 500.57,207.66 501.83,210.15 503.08,211.26 504.34,210.97 505.59,209.81 506.85,208.63 508.1,208.29 509.36,209.29 510.61,211.65 511.87,214.83 513.12,217.97 514.38,220.21 515.63,221.03 516.88,220.41 518.14,218.88 519.39,217.3 520.65,216.52 521.9,217.06 523.16,218.92 524.42,221.57 525.67,224.15 526.92,225.82 528.18,226.03 529.44,224.79 530.69,222.63 531.94,220.4 533.2,218.95 534.46,218.81 535.71,219.99 536.97,221.96 538.22,223.85 539.48,224.83 540.73,224.36 541.99,222.45 543.24,219.62 544.5,216.73 545.75,214.64 547.01,213.89 548.26,214.46 549.52,215.84 550.77,217.18 552.03,217.63 553.28,216.66 554.54,214.27 555.79,211 557.05,207.71 558.3,205.25 559.56,204.16 560.81,204.44 562.07,205.57 563.32,206.69 564.58,206.96 565.83,205.86 567.09,203.38 568.34,200.07 569.6,196.77 570.85,194.36 572.11,193.35 573.36,193.75 574.62,195.05 575.87,196.38 577.12,196.91 578.38,196.09 579.63,193.95 580.89,191 582.14,188.1 583.4,186.12 584.65,185.58 585.91,186.49 587.17,188.31 588.42,190.2 589.67,191.3 590.93,191.09 592.19,189.56 593.44,187.25 594.7,185.01 595.95,183.69 597.21,183.83 598.46,185.41 599.72,187.92 600.97,190.5 602.23,192.29 603.48,192.76 604.74,191.91 605.99,190.26 607.25,188.67 608.5,188 609.76,188.76"/>
<polygon fill="#000" points="106.5,229.4 106.5,225.9 107.75,223.68 109.01,222.88 110.27,223.01 111.52,223.25 112.78,222.76 114.03,221.06 115.28,218.17 116.54,214.64 117.8,211.35 119.05,209.16 120.31,208.63 121.56,209.75 122.81,212 124.07,214.54 125.33,216.49 126.58,217.32 127.84,217.03 129.09,216.11 130.34,215.41 131.6,215.75 132.86,217.64 134.11,221.04 135.37,225.39 136.58,229.4"/>
<polygon fill="#000" points="167.95,229.4 168,229.5 169.25,225.9 170.5,223.68 171.76,222.88 173.02,223.01 174.27,223.25 175.53,222.76 176.78,221.06 178.04,218.17 179.29,214.64 180.55,211.35 181.8,209.16 183.06,208.63 184.31,209.75 185.56,212 186.82,214.54 188.07,216.49 189.33,217.32 190.59,217.03 191.84,216.11 193.1,215.41 194.35,215.75 195.61,217.64 196.86,221.04 198.12,225.39 199.33,229.4"/>
<polygon fill="#000" points="230.7,229.4 230.75,229.5 232,225.9 233.26,223.68 234.51,222.88 235.77,223.01 237.02,223.25 238.28,222.76 239.53,221.06 240.79,218.17 242.04,214.64 243.3,211.35 244.55,209.16 245.81,208.63 247.06,209.75 248.32,212 249.57,214.54 250.83,216.49 252.08,217.32 253.34,217.03 254.59,216.11 255.84,215.41 257.1,215.75 258.36,217.64 259.61,221.04 260.87,225.39 262.08,229.4"/>
<polygon fill="#000" points="293.45,229.4 293.5,229.5 294.75,225.9 296,223.68 297.26,222.88 298.51,223.01 299.77,223.25 301.02,222.76 302.28,221.06 303.54,218.17 304.79,214.64 306.05,211.35 307.3,209.16 308.56,208.63 309.81,209.75 311.07,212 312.32,214.54 313.58,216.49 314.83,217.32 316.09,217.03 317.34,216.11 318.6,215.41 319.85,215.75 321.11,217.64 322.36,221.04 323.62,225.39 324.83,229.4"/>
<polygon fill="#000" points="356.2,229.4 356.25,229.5 357.5,225.9 358.75,223.68 360.01,222.88 361.26,223.01 362.52,223.25 363.78,222.76 365.03,221.06 366.29,218.17 367.54,214.64 368.8,211.35 370.05,209.16 371.31,208.63 372.56,209.75 373.81,212 375.07,214.54 376.32,216.49 377.58,217.32 378.84,217.03 380.09,216.11 381.35,215.41 382.6,215.75 383.86,217.64 385.11,221.04 386.37,225.39 387.58,229.4"/>
<polygon fill="#000" points="418.95,229.4 419,229.5 420.25,225.9 421.51,223.68 422.76,222.88 424.02,223.01 425.27,223.25 426.53,222.76 427.78,221.06 429.04,218.17 430.29,214.64 431.55,211.35 432.8,209.16 434.06,208.63 435.31,209.75 436.57,212 437.82,214.54 439.08,216.49 440.33,217.32 441.59,217.03 442.84,216.11 444.1,215.41 445.35,215.75 446.61,217.64 447.86,221.04 449.12,225.39 450.33,229.4"/>
<polygon fill="#000" points="481.7,229.4 481.75,229.5 483,225.9 484.26,223.68 485.51,222.88 486.77,223.01 488.02,223.25 489.28,222.76 490.53,221.06 491.79,218.17 493.04,214.64 494.3,211.35 495.55,209.16 496.81,208.63 498.06,209.75 499.32,212 500.57,214.54 501.83,216.49 503.08,217.32 504.34,217.03 505.59,216.11 506.85,215.41 508.1,215.75 509.36,217.64 510.61,221.04 511.87,225.39 513.08,229.4"/>
<polygon fill="#000" points="544.45,229.4 544.5,229.5 545.75,225.9 547.01,223.68 548.26,222.88 549.52,223.01 550.77,223.25 552.03,222.76 553.28,221.06 554.54,218.17 555.79,214.64 557.05,211.35 558.3,209.16 559.56,208.63 560.81,209.75 562.07,212 563.32,214.54 564.58,216.49 565.83,217.32 567.09,217.03 568.34,216.11 569.6,215.41 570.85,215.75 572.11,217.64 573.36,221.04 574.62,225.39 575.83,229.4"/>
<polygon fill="#000" points="607.2,229.4 607.25,229.5 608.5,225.9 609.76,223.68 609.76,229.4"/>
<polyline fill="none" points="106.5,225.9 107.75,223.68 109.01,222.88 110.27,223.01 111.52,223.25 112.78,222.76 114.03,221.06 115.28,218.17 116.54,214.64 117.8,211.35 119.05,209.16 120.31,208.63 121.56,209.75 122.81,212 124.07,214.54 125.33,216.49 126.58,217.32 127.84,217.03 129.09,216.11 130.34,215.41 131.6,215.75 132.86,217.64 134.11,221.04 135.37,225.39 136.62,229.82 137.88,233.42 139.13,235.64 140.38,236.44 141.64,236.31 142.9,236.07 144.15,236.56 145.41,238.26 146.66,241.15 147.92,244.68 149.17,247.97 150.43,250.16 151.68,250.69 152.94,249.57 154.19,247.32 155.44,244.78 156.7,242.83 157.96,242 159.21,242.29 160.47,243.21 161.72,243.91 162.97,243.57 164.23,241.68 165.49,238.28 166.74,233.93 168,229.5 169.25,225.9 170.5,223.68 171.76,222.88 173.02,223.01 174.27,223.25 175.53,222.76 176.78,221.06 178.04,218.17 179.29,214.64 180.55,211.35 181.8,209.16 183.06,208.63 184.31,209.75 185.56,212 186.82,214.54 188.07,216.49 189.33,217.32 190.59,217.03 191.84,216.11 193.1,215.41 194.35,215.75 195.61,217.64 196.86,221.04 198.12,225.39 199.37,229.82 200.62,233.42 201.88,235.64 203.13,236.44 204.39,236.31 205.65,236.07 206.9,236.56 208.16,238.26 209.41,241.15 210.67,244.68 211.92,247.97 213.18,250.16 214.43,250.69 215.69,249.57 216.94,247.32 218.19,244.78 219.45,242.83 220.7,242 221.96,242.29 223.22,243.21 224.47,243.91 225.73,243.57 226.98,241.68 228.24,238.28 229.49,233.93 230.75,229.5 232,225.9 233.26,223.68 234.51,222.88 235.77,223.01 237.02,223.25 238.28,222.76 239.53,221.06 240.79,218.17 242.04,214.64 243.3,211.35 244.55,209.16 245.81,208.63 247.06,209.75 248.32,212 249.57,214.54 250.83,216.49 252.08,217.32 253.34,217.03 254.59,216.11 255.84,215.41 257.1,215.75 258.36,217.64 259.61,221.04 260.87,225.39 262.12,229.82 263.38,233.42 264.63,235.64 265.88,236.44 267.14,236.31 268.39,236.07 269.65,236.56 270.91,238.26 272.16,241.15 273.42,244.68 274.67,247.97 275.93,250.16 277.18,250.69 278.44,249.57 279.69,247.32 280.95,244.78 282.2,242.83 283.46,242 284.71,242.29 285.97,243.21 287.22,243.91 288.48,243.57 289.73,241.68 290.99,238.28 292.24,233.93 293.5,229.5 294.75,225.9 296,223.68 297.26,222.88 298.51,223.01 299.77,223.25 301.02,222.76 302.28,221.06 303.54,218.17 304.79,214.64 306.05,211.35 307.3,209.16 308.56,208.63 309.81,209.75 311.07,212 312.32,214.54 313.58,216.49 314.83,217.32 316.09,217.03 317.34,216.11 318.6,215.41 319.85,215.75 321.11,217.64 322.36,221.04 323.62,225.39 324.87,229.82 326.12,233.42 327.38,235.64 328.63,236.44 329.89,236.31 331.15,236.07 332.4,236.56 333.66,238.26 334.91,241.15 336.17,244.68 337.42,247.97 338.68,250.16 339.93,250.69 341.19,249.57 342.44,247.32 343.7,244.78 344.95,242.83 346.21,242 347.46,242.29 348.72,243.21 349.97,243.91 351.23,243.57 352.48,241.68 353.74,238.28 354.99,233.93 356.25,229.5 357.5,225.9 358.75,223.68 360.01,222.88 361.26,223.01 362.52,223.25 363.78,222.76 365.03,221.06 366.29,218.17 367.54,214.64 368.8,211.35 370.05,209.16 371.31,208.63 372.56,209.75 373.81,212 375.07,214.54 376.32,216.49 377.58,217.32 378.84,217.03 380.09,216.11 381.35,215.41 382.6,215.75 383.86,217.64 385.11,221.04 386.37,225.39 387.62,229.82 388.88,233.42 390.13,235.64 391.39,236.44 392.64,236.31 393.9,236.07 395.15,236.56 396.41,238.26 397.66,241.15 398.92,244.68 400.17,247.97 401.43,250.16 402.68,250.69 403.94,249.57 405.19,247.32 406.45,244.78 407.7,242.83 408.96,242 410.21,242.29 411.47,243.21 412.72,243.91 413.98,243.57 415.23,241.68 416.49,238.28 417.74,233.93 419,229.5 420.25,225.9 421.51,223.68 422.76,222.88 424.02,223.01 425.27,223.25 426.53,222.76 427.78,221.06 429.04,218.17 430.29,214.64 431.55,211.35 432.8,209.16 434.06,208.63 435.31,209.75 436.57,212 437.82,214.54 439.08,216.49 440.33,217.32 441.59,217.03 442.84,216.11 444.1,215.41 445.35,215.75 446.61,217.64 447.86,221.04 449.12,225.39 450.37,229.82 451.62,233.42 452.88,235.64 454.14,236.44 455.39,236.31 456.65,236.07 457.9,236.56 459.16,238.26 460.41,241.15 461.67,244.68 462.92,247.97 464.18,250.16 465.43,250.69 466.69,249.57 467.94,247.32 469.2,244.78 470.45,242.83 471.71,242 472.96,242.29 474.22,243.21 475.47,243.91 476.73,243.57 477.98,241.68 479.24,238.28 480.49,233.93 481.75,229.5 483,225.9 484.26,223.68 485.51,222.88 486.77,223.01 488.02,223.25 489.28,222.76 490.53,221.06 491.79,218.17 493.04,214.64 494.3,211.35 495.55,209.16 496.81,208.63 498.06,209.75 499.32,212 500.57,214.54 501.83,216.49 503.08,217.32 504.34,217.03 505.59,216.11 506.85,215.41 508.1,215.75 509.36,217.64 510.61,221.04 511.87,225.39 513.12,229.82 514.38,233.42 515.63,235.64 516.88,236.44 518.14,236.31 519.39,236.07 520.65,236.56 521.9,238.26 523.16,241.15 524.42,244.68 525.67,247.97 526.92,250.16 528.18,250.69 529.44,249.57 530.69,247.32 531.94,244.78 533.2,242.83 534.46,242 535.71,242.29 536.97,243.21 538.22,243.91 539.48,243.57 540.73,241.68 541.99,238.28 543.24,233.93 544.5,229.5 545.75,225.9 547.01,223.68 548.26,222.88 549.52,223.01 550.77,223.25 552.03,222.76 553.28,221.06 554.54,218.17 555.79,214.64 557.05,211.35 558.3,209.16 559.56,208.63 560.81,209.75 562.07,212 563.32,214.54 564.58,216.49 565.83,217.32 567.09,217.03 568.34,216.11 569.6,215.41 570.85,215.75 572.11,217.64 573.36,221.04 574.62,225.39 575.87,229.82 577.12,233.42 578.38,235.64 579.63,236.44 580.89,236.31 582.14,236.07 583.4,236.56 584.65,238.26 585.91,241.15 587.17,244.68 588.42,247.97 589.67,250.16 590.93,250.69 592.19,249.57 593.44,247.32 594.7,244.78 595.95,242.83 597.21,242 598.46,242.29 599.72,243.21 600.97,243.91 602.23,243.57 603.48,241.68 604.74,238.28 605.99,233.93 607.25,229.5 608.5,225.9 609.76,223.68"/>
<polygon fill="#000" points="106.5,254.4 106.5,238.59 107.75,237.08 109.01,237.16 110.27,238.33 111.52,239.76 112.78,240.6 114.03,240.33 115.28,238.96 116.54,237.01 117.8,235.33 119.05,234.78 120.31,235.85 121.56,238.55 122.81,242.31 124.07,246.27 125.33,249.53 126.58,251.55 127.84,252.28 129.09,252.23 130.34,252.21 131.6,253.05 132.37,254.4"/>
<polygon fill="#000" points="163.74,254.4 164.23,253.53 165.49,250.04 166.74,245.79 168,241.68 169.25,238.59 170.5,237.08 171.76,237.16 173.02,238.33 174.27,239.76 175.53,240.6 176.78,240.33 178.04,238.96 179.29,237.01 180.55,235.33 181.8,234.78 183.06,235.85 184.31,238.55 185.56,242.31 186.82,246.27 188.07,249.53 189.33,251.55 190.59,252.28 191.84,252.23 193.1,252.21 194.35,253.05 195.12,254.4"/>
<polygon fill="#000" points="226.49,254.4 226.98,253.53 228.24,250.04 229.49,245.79 230.75,241.68 232,238.59 233.26,237.08 234.51,237.16 235.77,238.33 237.02,239.76 238.28,240.6 239.53,240.33 240.79,238.96 242.04,237.01 243.3,235.33 244.55,234.78 245.81,235.85 247.06,238.55 248.32,242.31 249.57,246.27 250.83,249.53 252.08,251.55 253.34,252.28 254.59,252.23 255.84,252.21 257.1,253.05 257.87,254.4"/>
<polygon fill="#000" points="289.24,254.4 289.73,253.53 290.99,250.04 292.24,245.79 293.5,241.68 294.75,238.59 296,237.08 297.26,237.16 298.51,238.33 299.77,239.76 301.02,240.6 302.28,240.33 303.54,238.96 304.79,237.01 306.05,235.33 307.3,234.78 308.56,235.85 309.81,238.55 311.07,242.31 312.32,246.27 313.58,249.53 314.83,251.55 316.09,252.28 317.34,252.23 318.6,252.21 319.85,253.05 320.62,254.4"/>
<polygon fill="#000" points="351.99,254.4 352.48,253.53 353.74,250.04 354.99,245.79 356.25,241.68 357.5,238.59 358.75,237.08 360.01,237.16 361.26,238.33 362.52,239.76 363.78,240.6 365.03,240.33 366.29,238.96 367.54,237.01 368.8,235.33 370.05,234.78 371.31,235.85 372.56,238.55 373.81,242.31 375.07,246.27 376.32,249.53 377.58,251.55 378.84,252.28 380.09,252.23 381.35,252.21 382.6,253.05 383.37,254.4"/>
<polygon fill="#000" points="414.74,254.4 415.23,253.53 416.49,250.04 417.74,245.79 419,241.68 420.25,238.59 421.51,237.08 422.76,237.16 424.02,238.33 425.27,239.76 426.53,240.6 427.78,240.33 429.04,238.96 430.29,237.01 431.55,235.33 432.8,234.78 434.06,235.85 435.31,238.55 436.57,242.31 437.82,246.27 439.08,249.53 440.33,251.55 441.59,252.28 442.84,252.23 444.1,252.21 445.35,253.05 446.12,254.4"/>
<polygon fill="#000" points="477.49,254.4 477.98,253.53 479.24,250.04 480.49,245.79 481.75,241.68 483,238.59 484.26,237.08 485.51,237.16 486.77,238.33 488.02,239.76 489.28,240.6 490.53,240.33 491.79,238.96 493.04,237.01 494.3,235.33 495.55,234.78 496.81,235.85 498.06,238.55 499.32,242.31 500.57,246.27 501.83,249.53 503.08,251.55 504.34,252.28 505.59,252.23 506.85,252.21 508.1,253.05 508.87,254.4"/>
<polygon fill="#000" points="540.24,254.4 540.73,253.53 541.99,250.04 543.24,245.79 544.5,241.68 545.75,238.59 547.01,237.08 548.26,237.16 549.52,238.33 550.77,239.76 552.03,240.6 553.28,240.33 554.54,238.96 555.79,237.01 557.05,235.33 558.3,234.78 559.56,235.85 560.81,238.55 562.07,242.31 563.32,246.27 564.58,249.53 565.83,251.55 567.09,252.28 568.34,252.23 569.6,252.21 570.85,253.05 571.62,254.4"/>
<polygon fill="#000" points="602.99,254.4 603.48,253.53 604.74,250.04 605.99,245.79 607.25,241.68 608.5,238.59 609.76,237.08 609.76,254.4"/>
<polyline fill="none" points="106.5,238.59 107.75,237.08 109.01,237.16 110.27,238.33 111.52,239.76 112.78,240.6 114.03,240.33 115.28,238.96 116.54,237.01 117.8,235.33 119.05,234.78 120.31,235.85 121.56,238.55 122.81,242.31 124.07,246.27 125.33,249.53 126.58,251.55 127.84,252.28 129.09,252.23 130.34,252.21 131.6,253.05 132.86,255.23 134.11,258.72 135.37,262.97 136.62,267.08 137.88,270.17 139.13,271.68 140.38,271.6 141.64,270.43 142.9,269 144.15,268.16 145.41,268.43 146.66,269.8 147.92,271.75 149.17,273.43 150.43,273.98 151.68,272.91 152.94,270.21 154.19,266.45 155.44,262.49 156.7,259.23 157.96,257.21 159.21,256.48 160.47,256.53 161.72,256.55 162.97,255.71 164.23,253.53 165.49,250.04 166.74,245.79 168,241.68 169.25,238.59 170.5,237.08 171.76,237.16 173.02,238.33 174.27,239.76 175.53,240.6 176.78,240.33 178.04,238.96 179.29,237.01 180.55,235.33 181.8,234.78 183.06,235.85 184.31,238.55 185.56,242.31 186.82,246.27 188.07,249.53 189.33,251.55 190.59,252.28 191.84,252.23 193.1,252.21 194.35,253.05 195.61,255.23 196.86,258.72 198.12,262.97 199.37,267.08 200.62,270.17 201.88,271.68 203.13,271.6 204.39,270.43 205.65,269 206.9,268.16 208.16,268.43 209.41,269.8 210.67,271.75 211.92,273.43 213.18,273.98 214.43,272.91 215.69,270.21 216.94,266.45 218.19,262.49 219.45,259.23 220.7,257.21 221.96,256.48 223.22,256.53 224.47,256.55 225.73,255.71 226.98,253.53 228.24,250.04 229.49,245.79 230.75,241.68 232,238.59 233.26,237.08 234.51,237.16 235.77,238.33 237.02,239.76 238.28,240.6 239.53,240.33 240.79,238.96 242.04,237.01 243.3,235.33 244.55,234.78 245.81,235.85 247.06,238.55 248.32,242.31 249.57,246.27 250.83,249.53 252.08,251.55 253.34,252.28 254.59,252.23 255.84,252.21 257.1,253.05 258.36,255.23 259.61,258.72 260.87,262.97 262.12,267.08 263.38,270.17 264.63,271.68 265.88,271.6 267.14,270.43 268.39,269 269.65,268.16 270.91,268.43 272.16,269.8 273.42,271.75 274.67,273.43 275.93,273.98 277.18,272.91 278.44,270.21 279.69,266.45 280.95,262.49 282.2,259.23 283.46,257.21 284.71,256.48 285.97,256.53 287.22,256.55 288.48,255.71 289.73,253.53 290.99,250.04 292.24,245.79 293.5,241.68 294.75,238.59 296,237.08 297.26,237.16 298.51,238.33 299.77,239.76 301.02,240.6 302.28,240.33 303.54,238.96 304.79,237.01 306.05,235.33 307.3,234.78 308.56,235.85 309.81,238.55 311.07,242.31 312.32,246.27 313.58,249.53 314.83,251.55 316.09,252.28 317.34,252.23 318.6,252.21 319.85,253.05 321.11,255.23 322.36,258.72 323.62,262.97 324.87,267.08 326.12,270.17 327.38,271.68 328.63,271.6 329.89,270.43 331.15,269 332.4,268.16 333.66,268.43 334.91,269.8 336.17,271.75 337.42,273.43 338.68,273.98 339.93,272.91 341.19,270.21 342.44,266.45 343.7,262.49 344.95,259.23 346.21,257.21 347.46,256.48 348.72,256.53 349.97,256.55 351.23,255.71 352.48,253.53 353.74,250.04 354.99,245.79 356.25,241.68 357.5,238.59 358.75,237.08 360.01,237.16 361.26,238.33 362.52,239.76 363.78,240.6 365.03,240.33 366.29,238.96 367.54,237.01 368.8,235.33 370.05,234.78 371.31,235.85 372.56,238.55 373.81,242.31 375.07,246.27 376.32,249.53 377.58,251.55 378.84,252.28 380.09,252.23 381.35,252.21 382.6,253.05 383.86,255.23 385.11,258.72 386.37,262.97 387.62,267.08 388.88,270.17 390.13,271.68 391.39,271.6 392.64,270.43 393.9,269 395.15,268.16 396.41,268.43 397.66,269.8 398.92,271.75 400.17,273.43 401.43,273.98 402.68,272.91 403.94,270.21 405.19,266.45 406.45,262.49 407.7,259.23 408.96,257.21 410.21,256.48 411.47,256.53 412.72,256.55 413.98,255.71 415.23,253.53 416.49,250.04 417.74,245.79 419,241.68 420.25,238.59 421.51,237.08 422.76,237.16 424.02,238.33 425.27,239.76 426.53,240.6 427.78,240.33 429.04,238.96 430.29,237.01 431.55,235.33 432.8,234.78 434.06,235.85 435.31,238.55 436.57,242.31 437.82,246.27 439.08,249.53 440.33,251.55 441.59,252.28 442.84,252.23 444.1,252.21 445.35,253.05 446.61,255.23 447.86,258.72 449.12,262.97 450.37,267.08 451.62,270.17 452.88,271.68 454.14,271.6 455.39,270.43 456.65,269 457.9,268.16 459.16,268.43 460.41,269.8 461.67,271.75 462.92,273.43 464.18,273.98 465.43,272.91 466.69,270.21 467.94,266.45 469.2,262.49 470.45,259.23 471.71,257.21 472.96,256.48 474.22,256.53 475.47,256.55 476.73,255.71 477.98,253.53 479.24,250.04 480.49,245.79 481.75,241.68 483,238.59 484.26,237.08 485.51,237.16 486.77,238.33 488.02,239.76 489.28,240.6 490.53,240.33 491.79,238.96 493.04,237.01 494.3,235.33 495.55,234.78 496.81,235.85 498.06,238.55 499.32,242.31 500.57,246.27 501.83,249.53 503.08,251.55 504.34,252.28 505.59,252.23 506.85,252.21 508.1,253.05 509.36,255.23 510.61,258.72 511.87,262.97 513.12,267.08 514.38,270.17 515.63,271.68 516.88,271.6 518.14,270.43 519.39,269 520.65,268.16 521.9,268.43 523.16,269.8 524.42,271.75 525.67,273.43 526.92,273.98 528.18,272.91 529.44,270.21 530.69,266.45 531.94,262.49 533.2,259.23 534.46,257.21 535.71,256.48 536.97,256.53 538.22,256.55 539.48,255.71 540.73,253.53 541.99,250.04 543.24,245.79 544.5,241.68 545.75,238.59 547.01,237.08 548.26,237.16 549.52,238.33 550.77,239.76 552.03,240.6 553.28,240.33 554.54,238.96 555.79,237.01 557.05,235.33 558.3,234.78 559.56,235.85 560.81,238.55 562.07,242.31 563.32,246.27 564.58,249.53 565.83,251.55 567.09,252.28 568.34,252.23 569.6,252.21 570.85,253.05 572.11,255.23 573.36,258.72 574.62,262.97 575.87,267.08 577.12,270.17 578.38,271.68 579.63,271.6 580.89,270.43 582.14,269 583.4,268.16 584.65,268.43 585.91,269.8 587.17,271.75 588.42,273.43 589.67,273.98 590.93,272.91 592.19,270.21 593.44,266.45 594.7,262.49 595.95,259.23 597.21,257.21 598.46,256.48 599.72,256.53 600.97,256.55 602.23,255.71 603.48,253.53 604.74,250.04 605.99,245.79 607.25,241.68 608.5,238.59 609.76,237.08"/>
<polygon fill="#000" points="106.5,279.4 106.5,257.82 107.75,257.82 109.01,259.48 110.27,262.27 111.52,265.32 112.78,267.77 114.03,269.08 115.28,269.22 116.54,268.7 117.8,268.34 119.05,268.96 120.31,271.08 121.56,274.64 122.81,279.4"/>
<polygon fill="#000" points="154.19,279.4 155.44,274.64 156.7,271.08 157.96,268.96 159.21,268.34 160.47,268.7 161.72,269.22 162.97,269.08 164.23,267.77 165.49,265.32 166.74,262.27 168,259.48 169.25,257.82 170.5,257.82 171.76,259.48 173.02,262.27 174.27,265.32 175.53,267.77 176.78,269.08 178.04,269.22 179.29,268.7 180.55,268.34 181.8,268.96 183.06,271.08 184.31,274.64 185.56,279.4"/>
<polygon fill="#000" points="216.94,279.4 218.19,274.64 219.45,271.08 220.7,268.96 221.96,268.34 223.22,268.7 224.47,269.22 225.73,269.08 226.98,267.77 228.24,265.32 229.49,262.27 230.75,259.48 232,257.82 233.26,257.82 234.51,259.48 235.77,262.27 237.02,265.32 238.28,267.77 239.53,269.08 240.79,269.22 242.04,268.7 243.3,268.34 244.55,268.96 245.81,271.08 247.06,274.64 248.32,279.4"/>
<polygon fill="#000" points="279.69,279.4 280.95,274.64 282.2,271.08 283.46,268.96 284.71,268.34 285.97,268.7 287.22,269.22 288.48,269.08 289.73,267.77 290.99,265.32 292.24,262.27 293.5,259.48 294.75,257.82 296,257.82 297.26,259.48 298.51,262.27 299.77,265.32 301.02,267.77 302.28,269.08 303.54,269.22 304.79,268.7 306.05,268.34 307.3,268.96 308.56,271.08 309.81,274.64 311.07,279.4"/>
<polygon fill="#000" points="342.44,279.4 343.7,274.64 344.95,271.08 346.21,268.96 347.46,268.34 348.72,268.7 349.97,269.22 351.23,269.08 352.48,267.77 353.74,265.32 354.99,262.27 356.25,259.48 357.5,257.82 358.75,257.82 360.01,259.48 361.26,262.27 362.52,265.32 363.78,267.77 365.03,269.08 366.29,269.22 367.54,268.7 368.8,268.34 370.05,268.96 371.31,271.08 372.56,274.64 373.81,279.4"/>
<polygon fill="#000" points="405.19,279.4 406.45,274.64 407.7,271.08 408.96,268.96 410.21,268.34 411.47,268.7 412.72,269.22 413.98,269.08 415.23,267.77 416.49,265.32 417.74,262.27 419,259.48 420.25,257.82 421.51,257.82 422.76,259.48 424.02,262.27 425.27,265.32 426.53,267.77 427.78,269.08 429.04,269.22 430.29,268.7 431.55,268.34 432.8,268.96 434.06,271.08 435.31,274.64 436.57,279.4"/>
<polygon fill="#000" points="467.94,279.4 469.2,274.64 470.45,271.08 471.71,268.96 472.96,268.34 474.22,268.7 475.47,269.22 476.73,269.08 477.98,267.77 479.24,265.32 480.49,262.27 481.75,259.48 483,257.82 484.26,257.82 485.51,259.48 486.77,262.27 488.02,265.32 489.28,267.77 490.53,269.08 491.79,269.22 493.04,268.7 494.3,268.34 495.55,268.96 496.81,271.08 498.06,274.64 499.32,279.1 499.32,279.4"/>
<polygon fill="#000" points="530.69,279.4 530.69,279.1 531.94,274.64 533.2,271.08 534.46,268.96 535.71,268.34 536.97,268.7 538.22,269.22 539.48,269.08 540.73,267.77 541.99,265.32 543.24,262.27 544.5,259.48 545.75,257.82 547.01,257.82 548.26,259.48 549.52,262.27 550.77,265.32 552.03,267.77 553.28,269.08 554.54,269.22 555.79,268.7 557.05,268.34 558.3,268.96 559.56,271.08 560.81,274.64 562.06,279.4"/>
<polygon fill="#000" points="593.44,279.4 593.44,279.1 594.7,274.64 595.95,271.08 597.21,268.96 598.46,268.34 599.72,268.7 600.97,269.22 602.23,269.08 603.48,267.77 604.74,265.32 605.99,262.27 607.25,259.48 608.5,257.82 609.76,257.82 609.76,279.4"/>
<polyline fill="none" points="106.5,257.82 107.75,257.82 109.01,259.48 110.27,262.27 111.52,265.32 112.78,267.77 114.03,269.08 115.28,269.22 116.54,268.7 117.8,268.34 119.05,268.96 120.31,271.08 121.56,274.64 122.81,279.1 124.07,283.56 125.33,287.12 126.58,289.24 127.84,289.86 129.09,289.5 130.34,288.98 131.6,289.12 132.86,290.43 134.11,292.88 135.37,295.93 136.62,298.72 137.88,300.38 139.13,300.38 140.38,298.72 141.64,295.93 142.9,292.88 144.15,290.43 145.41,289.12 146.66,288.98 147.92,289.5 149.17,289.86 150.43,289.24 151.68,287.12 152.94,283.56 154.19,279.1 155.44,274.64 156.7,271.08 157.96,268.96 159.21,268.34 160.47,268.7 161.72,269.22 162.97,269.08 164.23,267.77 165.49,265.32 166.74,262.27 168,259.48 169.25,257.82 170.5,257.82 171.76,259.48 173.02,262.27 174.27,265.32 175.53,267.77 176.78,269.08 178.04,269.22 179.29,268.7 180.55,268.34 181.8,268.96 183.06,271.08 184.31,274.64 185.56,279.1 186.82,283.56 188.07,287.12 189.33,289.24 190.59,289.86 191.84,289.5 193.1,288.98 194.35,289.12 195.61,290.43 196.86,292.88 198.12,295.93 199.37,298.72 200.62,300.38 201.88,300.38 203.13,298.72 204.39,295.93 205.65,292.88 206.9,290.43 208.16,289.12 209.41,288.98 210.67,289.5 211.92,289.86 213.18,289.24 214.43,287.12 215.69,283.56 216.94,279.1 218.19,274.64 219.45,271.08 220.7,268.96 221.96,268.34 223.22,268.7 224.47,269.22 225.73,269.08 226.98,267.77 228.24,265.32 229.49,262.27 230.75,259.48 232,257.82 233.26,257.82 234.51,259.48 235.77,262.27 237.02,265.32 238.28,267.77 239.53,269.08 240.79,269.22 242.04,268.7 243.3,268.34 244.55,268.96 245.81,271.08 247.06,274.64 248.32,279.1 249.57,283.56 250.83,287.12 252.08,289.24 253.34,289.86 254.59,289.5 255.84,288.98 257.1,289.12 258.36,290.43 259.61,292.88 260.87,295.93 262.12,298.72 263.38,300.38 264.63,300.38 265.88,298.72 267.14,295.93 268.39,292.88 269.65,290.43 270.91,289.12 272.16,288.98 273.42,289.5 274.67,289.86 275.93,289.24 277.18,287.12 278.44,283.56 279.69,279.1 280.95,274.64 282.2,271.08 283.46,268.96 284.71,268.34 285.97,268.7 287.22,269.22 288.48,269.08 289.73,267.77 290.99,265.32 292.24,262.27 293.5,259.48 294.75,257.82 296,257.82 297.26,259.48 298.51,262.27 299.77,265.32 301.02,267.77 302.28,269.08 303.54,269.22 304.79,268.7 306.05,268.34 307.3,268.96 308.56,271.08 309.81,274.64 311.07,279.1 312.32,283.56 313.58,287.12 314.83,289.24 316.09,289.86 317.34,289.5 318.6,288.98 319.85,289.12 321.11,290.43 322.36,292.88 323.62,295.93 324.87,298.72 326.12,300.38 327.38,300.38 328.63,298.72 329.89,295.93 331.15,292.88 332.4,290.43 333.66,289.12 334.91,288.98 336.17,289.5 337.42,289.86 338.68,289.24 339.93,287.12 341.19,283.56 342.44,279.1 343.7,274.64 344.95,271.08 346.21,268.96 347.46,268.34 348.72,268.7 349.97,269.22 351.23,269.08 352.48,267.77 353.74,265.32 354.99,262.27 356.25,259.48 357.5,257.82 358.75,257.82 360.01,259.48 361.26,262.27 362.52,265.32 363.78,267.77 365.03,269.08 366.29,269.22 367.54,268.7 368.8,268.34 370.05,268.96 371.31,271.08 372.56,274.64 373.81,279.1 375.07,283.56 376.32,287.12 377.58,289.24 378.84,289.86 380.09,289.5 381.35,288.98 382.6,289.12 383.86,290.43 385.11,292.88 386.37,295.93 387.62,298.72 388.88,300.38 390.13,300.38 391.39,298.72 392.64,295.93 393.9,292.88 395.15,290.43 396.41,289.12 397.66,288.98 398.92,289.5 400.17,289.86 401.43,289.24 402.68,287.12 403.94,283.56 405.19,279.1 406.45,274.64 407.7,271.08 408.96,268.96 410.21,268.34 411.47,268.7 412.72,269.22 413.98,269.08 415.23,267.77 416.49,265.32 417.74,262.27 419,259.48 420.25,257.82 421.51,257.82 422.76,259.48 424.02,262.27 425.27,265.32 426.53,267.77 427.78,269.08 429.04,269.22 430.29,268.7 431.55,268.34 432.8,268.96 434.06,271.08 435.31,274.64 436.57,279.1 437.82,283.56 439.08,287.12 440.33,289.24 441.59,289.86 442.84,289.5 444.1,288.98 445.35,289.12 446.61,290.43 447.86,292.88 449.12,295.93 450.37,298.72 451.62,300.38 452.88,300.38 454.14,298.72 455.39,295.93 456.65,292.88 457.9,290.43 459.16,289.12 460.41,288.98 461.67,289.5 462.92,289.86 464.18,289.24 465.43,287.12 466.69,283.56 467.94,279.1 469.2,274.64 470.45,271.08 471.71,268.96 472.96,268.34 474.22,268.7 475.47,269.22 476.73,269.08 477.98,267.77 479.24,265.32 480.49,262.27 481.75,259.48 483,257.82 484.26,257.82 485.51,259.48 486.77,262.27 488.02,265.32 489.28,267.77 490.53,269.08 491.79,269.22 493.04,268.7 494.3,268.34 495.55,268.96 496.81,271.08 498.06,274.64 499.32,279.1 500.57,283.56 501.83,287.12 503.08,289.24 504.34,289.86 505.59,289.5 506.85,288.98 508.1,289.12 509.36,290.43 510.61,292.88 511.87,295.93 513.12,298.72 514.38,300.38 515.63,300.38 516.88,298.72 518.14,295.93 519.39,292.88 520.65,290.43 521.9,289.12 523.16,288.98 524.42,289.5 525.67,289.86 526.92,289.24 528.18,287.12 529.44,283.56 530.69,279.1 531.94,274.64 533.2,271.08 534.46,268.96 535.71,268.34 536.97,268.7 538.22,269.22 539.48,269.08 540.73,267.77 541.99,265.32 543.24,262.27 544.5,259.48 545.75,257.82 547.01,257.82 548.26,259.48 549.52,262.27 550.77,265.32 552.03,267.77 553.28,269.08 554.54,269.22 555.79,268.7 557.05,268.34 558.3,268.96 559.56,271.08 560.81,274.64 562.07,279.1 563.32,283.56 564.58,287.12 565.83,289.24 567.09,289.86 568.34,289.5 569.6,288.98 570.85,289.12 572.11,290.43 573.36,292.88 574.62,295.93 575.87,298.72 577.12,300.38 578.38,300.38 579.63,298.72 580.89,295.93 582.14,292.88 583.4,290.43 584.65,289.12 585.91,288.98 587.17,289.5 588.42,289.86 589.67,289.24 590.93,287.12 592.19,283.56 593.44,279.1 594.7,274.64 595.95,271.08 597.21,268.96 598.46,268.34 599.72,268.7 600.97,269.22 602.23,269.08 603.48,267.77 604.74,265.32 605.99,262.27 607.25,259.48 608.5,257.82 609.76,257.82"/>
<polygon fill="#000" points="106.5,303.4 106.5,286.52 107.75,288.03 109.01,291.12 110.27,295.23 111.52,299.48 112.78,302.97 113.26,303.4"/>
<polygon fill="#000" points="144.64,303.4 145.41,302.49 146.66,301.65 147.92,301.67 149.17,301.72 150.43,300.99 151.68,298.97 152.94,295.71 154.19,291.75 155.44,287.99 156.7,285.29 157.96,284.22 159.21,284.77 160.47,286.45 161.72,288.4 162.97,289.77 164.23,290.04 165.49,289.2 166.74,287.77 168,286.6 169.25,286.52 170.5,288.03 171.76,291.12 173.02,295.23 174.27,299.48 175.53,302.97 176.01,303.4"/>
<polygon fill="#000" points="207.39,303.4 208.16,302.49 209.41,301.65 210.67,301.67 211.92,301.72 213.18,300.99 214.43,298.97 215.69,295.71 216.94,291.75 218.19,287.99 219.45,285.29 220.7,284.22 221.96,284.77 223.22,286.45 224.47,288.4 225.73,289.77 226.98,290.04 228.24,289.2 229.49,287.77 230.75,286.6 232,286.52 233.26,288.03 234.51,291.12 235.77,295.23 237.02,299.48 238.28,302.97 238.76,303.4"/>
<polygon fill="#000" points="270.14,303.4 270.91,302.49 272.16,301.65 273.42,301.67 274.67,301.72 275.93,300.99 277.18,298.97 278.44,295.71 279.69,291.75 280.95,287.99 282.2,285.29 283.46,284.22 284.71,284.77 285.97,286.45 287.22,288.4 288.48,289.77 289.73,290.04 290.99,289.2 292.24,287.77 293.5,286.6 294.75,286.52 296,288.03 297.26,291.12 298.51,295.23 299.77,299.48 301.02,302.97 301.51,303.4"/>
<polygon fill="#000" points="332.89,303.4 333.66,302.49 334.91,301.65 336.17,301.67 337.42,301.72 338.68,300.99 339.93,298.97 341.19,295.71 342.44,291.75 343.7,287.99 344.95,285.29 346.21,284.22 347.46,284.77 348.72,286.45 349.97,288.4 351.23,289.77 352.48,290.04 353.74,289.2 354.99,287.77 356.25,286.6 357.5,286.52 358.75,288.03 360.01,291.12 361.26,295.23 362.52,299.48 363.78,302.97 364.26,303.4"/>
<polygon fill="#000" points="395.64,303.4 396.41,302.49 397.66,301.65 398.92,301.67 400.17,301.72 401.43,300.99 402.68,298.97 403.94,295.71 405.19,291.75 406.45,287.99 407.7,285.29 408.96,284.22 410.21,284.77 411.47,286.45 412.72,288.4 413.98,289.77 415.23,290.04 416.49,289.2 417.74,287.77 419,286.6 420.25,286.52 421.51,288.03 422.76,291.12 424.02,295.23 425.27,299.48 426.53,302.97 427.01,303.4"/>
<polygon fill="#000" points="458.39,303.4 459.16,302.49 460.41,301.65 461.67,301.67 462.92,301.72 464.18,300.99 465.43,298.97 466.69,295.71 467.94,291.75 469.2,287.99 470.45,285.29 471.71,284.22 472.96,284.77 474.22,286.45 475.47,288.4 476.73,289.77 477.98,290.04 479.24,289.2 480.49,287.77 481.75,286.6 483,286.52 484.26,288.03 485.51,291.12 486.77,295.23 488.02,299.48 489.28,302.97 489.76,303.4"/>
<polygon fill="#000" points="521.14,303.4 521.9,302.49 523.16,301.65 524.42,301.67 525.67,301.72 526.92,300.99 528.18,298.97 529.44,295.71 530.69,291.75 531.94,287.99 533.2,285.29 534.46,284.22 535.71,284.77 536.97,286.45 538.22,288.4 539.48,289.77 540.73,290.04 541.99,289.2 543.24,287.77 544.5,286.6 545.75,286.52 547.01,288.03 548.26,291.12 549.52,295.23 550.77,299.48 552.03,302.97 552.51,303.4"/>
<polygon fill="#000" points="583.89,303.4 584.65,302.49 585.91,301.65 587.17,301.67 588.42,301.72 589.67,300.99 590.93,298.97 592.19,295.71 593.44,291.75 594.7,287.99 595.95,285.29 597.21,284.22 598.46,284.77 599.72,286.45 600.97,288.4 602.23,289.77 603.48,290.04 604.74,289.2 605.99,287.77 607.25,286.6 608.5,286.52 609.76,288.03 609.76,303.4"/>
<polyline fill="none" points="106.5,286.52 107.75,288.03 109.01,291.12 110.27,295.23 111.52,299.48 112.78,302.97 114.03,305.15 115.28,305.99 116.54,305.97 117.8,305.92 119.05,306.65 120.31,308.67 121.56,311.93 122.81,315.89 124.07,319.65 125.33,322.35 126.58,323.42 127.84,322.87 129.09,321.19 130.34,319.24 131.6,317.87 132.86,317.6 134.11,318.44 135.37,319.87 136.62,321.04 137.88,321.12 139.13,319.61 140.38,316.52 141.64,312.41 142.9,308.16 144.15,304.67 145.41,302.49 146.66,301.65 147.92,301.67 149.17,301.72 150.43,300.99 151.68,298.97 152.94,295.71 154.19,291.75 155.44,287.99 156.7,285.29 157.96,284.22 159.21,284.77 160.47,286.45 161.72,288.4 162.97,289.77 164.23,290.04 165.49,289.2 166.74,287.77 168,286.6 169.25,286.52 170.5,288.03 171.76,291.12 173.02,295.23 174.27,299.48 175.53,302.97 176.78,305.15 178.04,305.99 179.29,305.97 180.55,305.92 181.8,306.65 183.06,308.67 184.31,311.93 185.56,315.89 186.82,319.65 188.07,322.35 189.33,323.42 190.59,322.87 191.84,321.19 193.1,319.24 194.35,317.87 195.61,317.6 196.86,318.44 198.12,319.87 199.37,321.04 200.62,321.12 201.88,319.61 203.13,316.52 204.39,312.41 205.65,308.16 206.9,304.67 208.16,302.49 209.41,301.65 210.67,301.67 211.92,301.72 213.18,300.99 214.43,298.97 215.69,295.71 216.94,291.75 218.19,287.99 219.45,285.29 220.7,284.22 221.96,284.77 223.22,286.45 224.47,288.4 225.73,289.77 226.98,290.04 228.24,289.2 229.49,287.77 230.75,286.6 232,286.52 233.26,288.03 234.51,291.12 235.77,295.23 237.02,299.48 238.28,302.97 239.53,305.15 240.79,305.99 242.04,305.97 243.3,305.92 244.55,306.65 245.81,308.67 247.06,311.93 248.32,315.89 249.57,319.65 250.83,322.35 252.08,323.42 253.34,322.87 254.59,321.19 255.84,319.24 257.1,317.87 258.36,317.6 259.61,318.44 260.87,319.87 262.12,321.04 263.38,321.12 264.63,319.61 265.88,316.52 267.14,312.41 268.39,308.16 269.65,304.67 270.91,302.49 272.16,301.65 273.42,301.67 274.67,301.72 275.93,300.99 277.18,298.97 278.44,295.71 279.69,291.75 280.95,287.99 282.2,285.29 283.46,284.22 284.71,284.77 285.97,286.45 287.22,288.4 288.48,289.77 289.73,290.04 290.99,289.2 292.24,287.77 293.5,286.6 294.75,286.52 296,288.03 297.26,291.12 298.51,295.23 299.77,299.48 301.02,302.97 302.28,305.15 303.54,305.99 304.79,305.97 306.05,305.92 307.3,306.65 308.56,308.67 309.81,311.93 311.07,315.89 312.32,319.65 313.58,322.35 314.83,323.42 316.09,322.87 317.34,321.19 318.6,319.24 319.85,317.87 321.11,317.6 322.36,318.44 323.62,319.87 324.87,321.04 326.12,321.12 327.38,319.61 328.63,316.52 329.89,312.41 331.15,308.16 332.4,304.67 333.66,302.49 334.91,301.65 336.17,301.67 337.42,301.72 338.68,300.99 339.93,298.97 341.19,295.71 342.44,291.75 343.7,287.99 344.95,285.29 346.21,284.22 347.46,284.77 348.72,286.45 349.97,288.4 351.23,289.77 352.48,290.04 353.74,289.2 354.99,287.77 356.25,286.6 357.5,286.52 358.75,288.03 360.01,291.12 361.26,295.23 362.52,299.48 363.78,302.97 365.03,305.15 366.29,305.99 367.54,305.97 368.8,305.92 370.05,306.65 371.31,308.67 372.56,311.93 373.81,315.89 375.07,319.65 376.32,322.35 377.58,323.42 378.84,322.87 380.09,321.19 381.35,319.24 382.6,317.87 383.86,317.6 385.11,318.44 386.37,319.87 387.62,321.04 388.88,321.12 390.13,319.61 391.39,316.52 392.64,312.41 393.9,308.16 395.15,304.67 396.41,302.49 397.66,301.65 398.92,301.67 400.17,301.72 401.43,300.99 402.68,298.97 403.94,295.71 405.19,291.75 406.45,287.99 407.7,285.29 408.96,284.22 410.21,284.77 411.47,286.45 412.72,288.4 413.98,289.77 415.23,290.04 416.49,289.2 417.74,287.77 419,286.6 420.25,286.52 421.51,288.03 422.76,291.12 424.02,295.23 425.27,299.48 426.53,302.97 427.78,305.15 429.04,305.99 430.29,305.97 431.55,305.92 432.8,306.65 434.06,308.67 435.31,311.93 436.57,315.89 437.82,319.65 439.08,322.35 440.33,323.42 441.59,322.87 442.84,321.19 444.1,319.24 445.35,317.87 446.61,317.6 447.86,318.44 449.12,319.87 450.37,321.04 451.62,321.12 452.88,319.61 454.14,316.52 455.39,312.41 456.65,308.16 457.9,304.67 459.16,302.49 460.41,301.65 461.67,301.67 462.92,301.72 464.18,300.99 465.43,298.97 466.69,295.71 467.94,291.75 469.2,287.99 470.45,285.29 471.71,284.22 472.96,284.77 474.22,286.45 475.47,288.4 476.73,289.77 477.98,290.04 479.24,289.2 480.49,287.77 481.75,286.6 483,286.52 484.26,288.03 485.51,291.12 486.77,295.23 488.02,299.48 489.28,302.97 490.53,305.15 491.79,305.99 493.04,305.97 494.3,305.92 495.55,306.65 496.81,308.67 498.06,311.93 499.32,315.89 500.57,319.65 501.83,322.35 503.08,323.42 504.34,322.87 505.59,321.19 506.85,319.24 508.1,317.87 509.36,317.6 510.61,318.44 511.87,319.87 513.12,321.04 514.38,321.12 515.63,319.61 516.88,316.52 518.14,312.41 519.39,308.16 520.65,304.67 521.9,302.49 523.16,301.65 524.42,301.67 525.67,301.72 526.92,300.99 528.18,298.97 529.44,295.71 530.69,291.75 531.94,287.99 533.2,285.29 534.46,284.22 535.71,284.77 536.97,286.45 538.22,288.4 539.48,289.77 540.73,290.04 541.99,289.2 543.24,287.77 544.5,286.6 545.75,286.52 547.01,288.03 548.26,291.12 549.52,295.23 550.77,299.48 552.03,302.97 553.28,305.15 554.54,305.99 555.79,305.97 557.05,305.92 558.3,306.65 559.56,308.67 560.81,311.93 562.07,315.89 563.32,319.65 564.58,322.35 565.83,323.42 567.09,322.87 568.34,321.19 569.6,319.24 570.85,317.87 572.11,317.6 573.36,318.44 574.62,319.87 575.87,321.04 577.12,321.12 578.38,319.61 579.63,316.52 580.89,312.41 582.14,308.16 583.4,304.67 584.65,302.49 585.91,301.65 587.17,301.67 588.42,301.72 589.67,300.99 590.93,298.97 592.19,295.71 593.44,291.75 594.7,287.99 595.95,285.29 597.21,284.22 598.46,284.77 599.72,286.45 600.97,288.4 602.23,289.77 603.48,290.04 604.74,289.2 605.99,287.77 607.25,286.6 608.5,286.52 609.76,288.03"/>
<polygon fill="#000" points="106.5,328.4 106.5,287.43 107.75,284.78 109.01,283.79 110.27,283.96 111.52,284.45 112.78,284.44 114.03,283.39 115.28,281.31 116.54,278.74 117.8,276.53 119.05,275.52 120.31,276.23 121.56,278.64 122.81,282.2 124.07,286.05 125.33,289.28 126.58,291.36 127.84,292.24 129.09,292.42 130.34,292.71 131.6,293.94 132.86,296.59 134.11,300.63 135.37,305.5 136.62,310.31 137.88,314.16 139.13,316.51 140.38,317.33 141.64,317.11 142.9,316.7 144.15,316.92 145.41,318.31 146.66,320.84 147.92,323.99 149.17,326.9 150.3,328.4"/>
<polygon fill="#000" points="152.04,328.4 152.94,327.56 154.19,325.13 155.44,322.52 156.7,320.61 157.96,319.96 159.21,320.59 160.47,322 161.72,323.36 162.97,323.86 164.23,322.99 165.49,320.79 166.74,317.81 168,314.94 169.25,313.05 170.5,312.7 171.76,313.91 173.02,316.16 174.27,318.62 175.53,320.44 176.78,321.1 178.04,320.61 179.29,319.48 180.55,318.56 181.8,318.7 183.06,320.42 184.31,323.7 185.56,327.97 185.73,328.4"/>
<polygon fill="#000" points="227.36,328.4 228.24,325.74 229.49,321.01 230.75,316.45 232,312.95 233.26,311.05 234.51,310.8 235.77,311.67 237.02,312.85 238.28,313.48 239.53,313.05 240.79,311.57 242.04,309.56 243.3,307.88 244.55,307.37 245.81,308.55 247.06,311.4 248.32,315.37 249.57,319.58 250.83,323.16 252.08,325.54 253.34,326.69 254.59,327.11 255.84,327.61 256.68,328.4"/>
<polygon fill="#000" points="343.36,328.4 343.7,327.06 344.95,322.2 346.21,318.61 347.46,316.32 348.72,314.85 349.97,313.38 351.23,311.09 352.48,307.5 353.74,302.64 354.99,297.08 356.25,291.72 357.5,287.43 358.75,284.78 360.01,283.79 361.26,283.96 362.52,284.45 363.78,284.44 365.03,283.39 366.29,281.31 367.54,278.74 368.8,276.53 370.05,275.52 371.31,276.23 372.56,278.64 373.81,282.2 375.07,286.05 376.32,289.28 377.58,291.36 378.84,292.24 380.09,292.42 381.35,292.71 382.6,293.94 383.86,296.59 385.11,300.63 386.37,305.5 387.62,310.31 388.88,314.16 390.13,316.51 391.39,317.33 392.64,317.11 393.9,316.7 395.15,316.92 396.41,318.31 397.66,320.84 398.92,323.99 400.17,326.9 401.3,328.4"/>
<polygon fill="#000" points="403.04,328.4 403.94,327.56 405.19,325.13 406.45,322.52 407.7,320.61 408.96,319.96 410.21,320.59 411.47,322 412.72,323.36 413.98,323.86 415.23,322.99 416.49,320.79 417.74,317.81 419,314.94 420.25,313.05 421.51,312.7 422.76,313.91 424.02,316.16 425.27,318.62 426.53,320.44 427.78,321.1 429.04,320.61 430.29,319.48 431.55,318.56 432.8,318.7 434.06,320.42 435.31,323.7 436.57,327.97 436.73,328.4"/>
<polygon fill="#000" points="478.36,328.4 479.24,325.74 480.49,321.01 481.75,316.45 483,312.95 484.26,311.05 485.51,310.8 486.77,311.67 488.02,312.85 489.28,313.48 490.53,313.05 491.79,311.57 493.04,309.56 494.3,307.88 495.55,307.37 496.81,308.55 498.06,311.4 499.32,315.37 500.57,319.58 501.83,323.16 503.08,325.54 504.34,326.69 505.59,327.11 506.85,327.61 507.68,328.4"/>
<polygon fill="#000" points="594.36,328.4 594.7,327.06 595.95,322.2 597.21,318.61 598.46,316.32 599.72,314.85 600.97,313.38 602.23,311.09 603.48,307.5 604.74,302.64 605.99,297.08 607.25,291.72 608.5,287.43 609.76,284.78 609.76,328.4"/>
<polyline fill="none" points="106.5,287.43 107.75,284.78 109.01,283.79 110.27,283.96 111.52,284.45 112.78,284.44 114.03,283.39 115.28,281.31 116.54,278.74 117.8,276.53 119.05,275.52 120.31,276.23 121.56,278.64 122.81,282.2 124.07,286.05 125.33,289.28 126.58,291.36 127.84,292.24 129.09,292.42 130.34,292.71 131.6,293.94 132.86,296.59 134.11,300.63 135.37,305.5 136.62,310.31 137.88,314.16 139.13,316.51 140.38,317.33 141.64,317.11 142.9,316.7 144.15,316.92 145.41,318.31 146.66,320.84 147.92,323.99 149.17,326.9 150.43,328.72 151.68,328.94 152.94,327.56 154.19,325.13 155.44,322.52 156.7,320.61 157.96,319.96 159.21,320.59 160.47,322 161.72,323.36 162.97,323.86 164.23,322.99 165.49,320.79 166.74,317.81 168,314.94 169.25,313.05 170.5,312.7 171.76,313.91 173.02,316.16 174.27,318.62 175.53,320.44 176.78,321.1 178.04,320.61 179.29,319.48 180.55,318.56 181.8,318.7 183.06,320.42 184.31,323.7 185.56,327.97 186.82,332.38 188.07,336.03 189.33,338.36 190.59,339.36 191.84,339.5 193.1,339.62 194.35,340.52 195.61,342.72 196.86,346.17 198.12,350.31 199.37,354.26 200.62,357.14 201.88,358.4 203.13,358.01 204.39,356.49 205.65,354.67 206.9,353.41 208.16,353.21 209.41,354.09 210.67,355.52 211.92,356.65 213.18,356.64 214.43,354.98 215.69,351.69 216.94,347.33 218.19,342.76 219.45,338.89 220.7,336.27 221.96,334.94 223.22,334.4 224.47,333.85 225.73,332.46 226.98,329.74 228.24,325.74 229.49,321.01 230.75,316.45 232,312.95 233.26,311.05 234.51,310.8 235.77,311.67 237.02,312.85 238.28,313.48 239.53,313.05 240.79,311.57 242.04,309.56 243.3,307.88 244.55,307.37 245.81,308.55 247.06,311.4 248.32,315.37 249.57,319.58 250.83,323.16 252.08,325.54 253.34,326.69 254.59,327.11 255.84,327.61 257.1,329 258.36,331.79 259.61,335.94 260.87,340.87 262.12,345.71 263.38,349.56 264.63,351.87 265.88,352.61 267.14,352.28 268.39,351.72 269.65,351.77 270.91,352.94 272.16,355.23 273.42,358.1 274.67,360.69 275.93,362.17 277.18,362 278.44,360.21 279.69,357.33 280.95,354.25 282.2,351.83 283.46,350.64 284.71,350.7 285.97,351.51 287.22,352.24 288.48,352.08 289.73,350.53 290.99,347.62 292.24,343.9 293.5,340.26 294.75,337.59 296,336.42 297.26,336.79 298.51,338.19 299.77,339.76 301.02,340.68 302.28,340.42 303.54,338.98 304.79,336.89 306.05,335 307.3,334.15 308.56,334.86 309.81,337.11 311.07,340.35 312.32,343.71 313.58,346.3 314.83,347.57 316.09,347.48 317.34,346.54 318.6,345.56 319.85,345.37 321.11,346.46 322.36,348.8 323.62,351.83 324.87,354.68 326.12,356.44 327.38,356.59 328.63,355.09 329.89,352.46 331.15,349.54 332.4,347.18 333.66,345.9 334.91,345.69 336.17,346.05 337.42,346.11 338.68,345.04 339.93,342.34 341.19,338.02 342.44,332.63 343.7,327.06 344.95,322.2 346.21,318.61 347.46,316.32 348.72,314.85 349.97,313.38 351.23,311.09 352.48,307.5 353.74,302.64 354.99,297.08 356.25,291.72 357.5,287.43 358.75,284.78 360.01,283.79 361.26,283.96 362.52,284.45 363.78,284.44 365.03,283.39 366.29,281.31 367.54,278.74 368.8,276.53 370.05,275.52 371.31,276.23 372.56,278.64 373.81,282.2 375.07,286.05 376.32,289.28 377.58,291.36 378.84,292.24 380.09,292.42 381.35,292.71 382.6,293.94 383.86,296.59 385.11,300.63 386.37,305.5 387.62,310.31 388.88,314.16 390.13,316.51 391.39,317.33 392.64,317.11 393.9,316.7 395.15,316.92 396.41,318.31 397.66,320.84 398.92,323.99 400.17,326.9 401.43,328.72 402.68,328.94 403.94,327.56 405.19,325.13 406.45,322.52 407.7,320.61 408.96,319.96 410.21,320.59 411.47,322 412.72,323.36 413.98,323.86 415.23,322.99 416.49,320.79 417.74,317.81 419,314.94 420.25,313.05 421.51,312.7 422.76,313.91 424.02,316.16 425.27,318.62 426.53,320.44 427.78,321.1 429.04,320.61 430.29,319.48 431.55,318.56 432.8,318.7 434.06,320.42 435.31,323.7 436.57,327.97 437.82,332.38 439.08,336.03 440.33,338.36 441.59,339.36 442.84,339.5 444.1,339.62 445.35,340.52 446.61,342.72 447.86,346.17 449.12,350.31 450.37,354.26 451.62,357.14 452.88,358.4 454.14,358.01 455.39,356.49 456.65,354.67 457.9,353.41 459.16,353.21 460.41,354.09 461.67,355.52 462.92,356.65 464.18,356.64 465.43,354.98 466.69,351.69 467.94,347.33 469.2,342.76 470.45,338.89 471.71,336.27 472.96,334.94 474.22,334.4 475.47,333.85 476.73,332.46 477.98,329.74 479.24,325.74 480.49,321.01 481.75,316.45 483,312.95 484.26,311.05 485.51,310.8 486.77,311.67 488.02,312.85 489.28,313.48 490.53,313.05 491.79,311.57 493.04,309.56 494.3,307.88 495.55,307.37 496.81,308.55 498.06,311.4 499.32,315.37 500.57,319.58 501.83,323.16 503.08,325.54 504.34,326.69 505.59,327.11 506.85,327.61 508.1,329 509.36,331.79 510.61,335.94 511.87,340.87 513.12,345.71 514.38,349.56 515.63,351.87 516.88,352.61 518.14,352.28 519.39,351.72 520.65,351.77 521.9,352.94 523.16,355.23 524.42,358.1 525.67,360.69 526.92,362.17 528.18,362 529.44,360.21 530.69,357.33 531.94,354.25 533.2,351.83 534.46,350.64 535.71,350.7 536.97,351.51 538.22,352.24 539.48,352.08 540.73,350.53 541.99,347.62 543.24,343.9 544.5,340.26 545.75,337.59 547.01,336.42 548.26,336.79 549.52,338.19 550.77,339.76 552.03,340.68 553.28,340.42 554.54,338.98 555.79,336.89 557.05,335 558.3,334.15 559.56,334.86 560.81,337.11 562.07,340.35 563.32,343.71 564.58,346.3 565.83,347.57 567.09,347.48 568.34,346.54 569.6,345.56 570.85,345.37 572.11,346.46 573.36,348.8 574.62,351.83 575.87,354.68 577.12,356.44 578.38,356.59 579.63,355.09 580.89,352.46 582.14,349.54 583.4,347.18 584.65,345.9 585.91,345.69 587.17,346.05 588.42,346.11 589.67,345.04 590.93,342.34 592.19,338.02 593.44,332.63 594.7,327.06 595.95,322.2 597.21,318.61 598.46,316.32 599.72,314.85 600.97,313.38 602.23,311.09 603.48,307.5 604.74,302.64 605.99,297.08 607.25,291.72 608.5,287.43 609.76,284.78"/>
<polygon fill="#000" points="106.5,353.4 106.5,349.64 107.75,349.64 109.01,351.02 110.27,353.4"/>
<polygon fill="#000" points="116.54,353.4 117.8,351.02 119.05,349.64 120.31,349.64 121.56,351.02 122.81,353.4"/>
<polygon fill="#000" points="129.09,353.4 130.34,351.02 131.6,349.64 132.86,349.64 134.11,351.02 135.37,353.4"/>
<polygon fill="#000" points="141.64,353.4 142.9,351.02 144.15,349.64 145.41,349.64 146.66,351.02 147.92,353.4"/>
<polygon fill="#000" points="154.19,353.4 155.44,351.02 156.7,349.64 157.96,349.64 159.21,351.02 160.47,353.4"/>
<polygon fill="#000" points="166.74,353.4 168,351.02 169.25,349.64 170.5,349.64 171.76,351.02 173.01,353.4"/>
<polygon fill="#000" points="179.29,353.4 180.55,351.02 181.8,349.64 183.06,349.64 184.31,351.02 185.56,353.4"/>
<polygon fill="#000" points="191.84,353.4 193.1,351.02 194.35,349.64 195.61,349.64 196.86,351.02 198.12,353.4"/>
<polygon fill="#000" points="204.39,353.4 205.65,351.02 206.9,349.64 208.16,349.64 209.41,351.02 210.67,353.4"/>
<polygon fill="#000" points="216.94,353.4 218.19,351.02 219.45,349.64 220.7,349.64 221.96,351.02 223.22,353.4"/>
<polygon fill="#000" points="229.49,353.4 230.75,351.02 232,349.64 233.26,349.64 234.51,351.02 235.77,353.26 235.77,353.4"/>
<polygon fill="#000" points="242.04,353.4 243.3,351.02 244.55,349.64 245.81,349.64 247.06,351.02 248.32,353.4"/>
<polygon fill="#000" points="254.59,353.4 255.84,351.02 257.1,349.64 258.36,349.64 259.61,351.02 260.87,353.26 260.87,353.4"/>
<polygon fill="#000" points="267.14,353.4 268.39,351.02 269.65,349.64 270.91,349.64 272.16,351.02 273.42,353.4"/>
<polygon fill="#000" points="279.69,353.4 280.95,351.02 282.2,349.64 283.46,349.64 284.71,351.02 285.97,353.26 285.97,353.4"/>
<polygon fill="#000" points="292.24,353.4 293.5,351.02 294.75,349.64 296,349.64 297.26,351.02 298.51,353.4"/>
<polygon fill="#000" points="304.79,353.4 306.05,351.02 307.3,349.64 308.56,349.64 309.81,351.02 311.07,353.26 311.07,353.4"/>
<polygon fill="#000" points="317.34,353.4 318.6,351.02 319.85,349.64 321.11,349.64 322.36,351.02 323.62,353.4"/>
<polygon fill="#000" points="329.89,353.4 331.15,351.02 332.4,349.64 333.66,349.64 334.91,351.02 336.17,353.26 336.17,353.4"/>
<polygon fill="#000" points="342.44,353.4 343.7,351.02 344.95,349.64 346.21,349.64 347.46,351.02 348.72,353.4"/>
<polygon fill="#000" points="354.99,353.4 356.25,351.02 357.5,349.64 358.75,349.64 360.01,351.02 361.26,353.26 361.27,353.4"/>
<polygon fill="#000" points="367.54,353.4 368.8,351.02 370.05,349.64 371.31,349.64 372.56,351.02 373.81,353.4"/>
<polygon fill="#000" points="380.09,353.4 381.35,351.02 382.6,349.64 383.86,349.64 385.11,351.02 386.37,353.4"/>
<polygon fill="#000" points="392.64,353.4 393.9,351.02 395.15,349.64 396.41,349.64 397.66,351.02 398.92,353.26 398.92,353.4"/>
<polygon fill="#000" points="405.19,353.4 406.45,351.02 407.7,349.64 408.96,349.64 410.21,351.02 411.47,353.26 411.47,353.4"/>
<polygon fill="#000" points="417.74,353.4 419,351.02 420.25,349.64 421.51,349.64 422.76,351.02 424.02,353.4"/>
<polygon fill="#000" points="430.29,353.4 431.55,351.02 432.8,349.64 434.06,349.64 435.31,351.02 436.57,353.4"/>
<polygon fill="#000" points="442.84,353.4 444.1,351.02 445.35,349.64 446.61,349.64 447.86,351.02 449.12,353.26 449.12,353.4"/>
<polygon fill="#000" points="455.39,353.4 456.65,351.02 457.9,349.64 459.16,349.64 460.41,351.02 461.67,353.26 461.67,353.4"/>
<polygon fill="#000" points="467.94,353.4 469.2,351.02 470.45,349.64 471.71,349.64 472.96,351.02 474.22,353.4"/>
<polygon fill="#000" points="480.49,353.4 481.75,351.02 483,349.64 484.26,349.64 485.51,351.02 486.77,353.4"/>
<polygon fill="#000" points="493.04,353.4 494.3,351.02 495.55,349.64 496.81,349.64 498.06,351.02 499.32,353.26 499.32,353.4"/>
<polygon fill="#000" points="505.59,353.4 506.85,351.02 508.1,349.64 509.36,349.64 510.61,351.02 511.86,353.4"/>
<polygon fill="#000" points="518.14,353.4 518.14,353.26 519.39,351.02 520.65,349.64 521.9,349.64 523.16,351.02 524.41,353.4"/>
<polygon fill="#000" points="530.69,353.4 530.69,353.26 531.94,351.02 533.2,349.64 534.46,349.64 535.71,351.02 536.97,353.4"/>
<polygon fill="#000" points="543.24,353.4 543.24,353.26 544.5,351.02 545.75,349.64 547.01,349.64 548.26,351.02 549.51,353.4"/>
<polygon fill="#000" points="555.79,353.4 555.79,353.26 557.05,351.02 558.3,349.64 559.56,349.64 560.81,351.02 562.06,353.4"/>
<polygon fill="#000" points="568.34,353.4 568.34,353.26 569.6,351.02 570.85,349.64 572.11,349.64 573.36,351.02 574.61,353.4"/>
<polygon fill="#000" points="580.89,353.4 580.89,353.26 582.14,351.02 583.4,349.64 584.65,349.64 585.91,351.02 587.16,353.4"/>
<polygon fill="#000" points="593.44,353.4 593.44,353.26 594.7,351.02 595.95,349.64 597.21,349.64 598.46,351.02 599.72,353.4"/>
<polygon fill="#000" points="605.99,353.4 605.99,353.26 607.25,351.02 608.5,349.64 609.76,349.64 609.76,353.4"/>
<polyline fill="none" points="106.5,349.64 107.75,349.64 109.01,351.02 110.27,353.26 111.52,355.5 112.78,356.88 114.03,356.88 115.28,355.5 116.54,353.26 117.8,351.02 119.05,349.64 120.31,349.64 121.56,351.02 122.81,353.26 124.07,355.5 125.33,356.88 126.58,356.88 127.84,355.5 129.09,353.26 130.34,351.02 131.6,349.64 132.86,349.64 134.11,351.02 135.37,353.26 136.62,355.5 137.88,356.88 139.13,356.88 140.38,355.5 141.64,353.26 142.9,351.02 144.15,349.64 145.41,349.64 146.66,351.02 147.92,353.26 149.17,355.5 150.43,356.88 151.68,356.88 152.94,355.5 154.19,353.26 155.44,351.02 156.7,349.64 157.96,349.64 159.21,351.02 160.47,353.26 161.72,355.5 162.97,356.88 164.23,356.88 165.49,355.5 166.74,353.26 168,351.02 169.25,349.64 170.5,349.64 171.76,351.02 173.02,353.26 174.27,355.5 175.53,356.88 176.78,356.88 178.04,355.5 179.29,353.26 180.55,351.02 181.8,349.64 183.06,349.64 184.31,351.02 185.56,353.26 186.82,355.5 188.07,356.88 189.33,356.88 190.59,355.5 191.84,353.26 193.1,351.02 194.35,349.64 195.61,349.64 196.86,351.02 198.12,353.26 199.37,355.5 200.62,356.88 201.88,356.88 203.13,355.5 204.39,353.26 205.65,351.02 206.9,349.64 208.16,349.64 209.41,351.02 210.67,353.26 211.92,355.5 213.18,356.88 214.43,356.88 215.69,355.5 216.94,353.26 218.19,351.02 219.45,349.64 220.7,349.64 221.96,351.02 223.22,353.26 224.47,355.5 225.73,356.88 226.98,356.88 228.24,355.5 229.49,353.26 230.75,351.02 232,349.64 233.26,349.64 234.51,351.02 235.77,353.26 237.02,355.5 238.28,356.88 239.53,356.88 240.79,355.5 242.04,353.26 243.3,351.02 244.55,349.64 245.81,349.64 247.06,351.02 248.32,353.26 249.57,355.5 250.83,356.88 252.08,356.88 253.34,355.5 254.59,353.26 255.84,351.02 257.1,349.64 258.36,349.64 259.61,351.02 260.87,353.26 262.12,355.5 263.38,356.88 264.63,356.88 265.88,355.5 267.14,353.26 268.39,351.02 269.65,349.64 270.91,349.64 272.16,351.02 273.42,353.26 274.67,355.5 275.93,356.88 277.18,356.88 278.44,355.5 279.69,353.26 280.95,351.02 282.2,349.64 283.46,349.64 284.71,351.02 285.97,353.26 287.22,355.5 288.48,356.88 289.73,356.88 290.99,355.5 292.24,353.26 293.5,351.02 294.75,349.64 296,349.64 297.26,351.02 298.51,353.26 299.77,355.5 301.02,356.88 302.28,356.88 303.54,355.5 304.79,353.26 306.05,351.02 307.3,349.64 308.56,349.64 309.81,351.02 311.07,353.26 312.32,355.5 313.58,356.88 314.83,356.88 316.09,355.5 317.34,353.26 318.6,351.02 319.85,349.64 321.11,349.64 322.36,351.02 323.62,353.26 324.87,355.5 326.12,356.88 327.38,356.88 328.63,355.5 329.89,353.26 331.15,351.02 332.4,349.64 333.66,349.64 334.91,351.02 336.17,353.26 337.42,355.5 338.68,356.88 339.93,356.88 341.19,355.5 342.44,353.26 343.7,351.02 344.95,349.64 346.21,349.64 347.46,351.02 348.72,353.26 349.97,355.5 351.23,356.88 352.48,356.88 353.74,355.5 354.99,353.26 356.25,351.02 357.5,349.64 358.75,349.64 360.01,351.02 361.26,353.26 362.52,355.5 363.78,356.88 365.03,356.88 366.29,355.5 367.54,353.26 368.8,351.02 370.05,349.64 371.31,349.64 372.56,351.02 373.81,353.26 375.07,355.5 376.32,356.88 377.58,356.88 378.84,355.5 380.09,353.26 381.35,351.02 382.6,349.64 383.86,349.64 385.11,351.02 386.37,353.26 387.62,355.5 388.88,356.88 390.13,356.88 391.39,355.5 392.64,353.26 393.9,351.02 395.15,349.64 396.41,349.64 397.66,351.02 398.92,353.26 400.17,355.5 401.43,356.88 402.68,356.88 403.94,355.5 405.19,353.26 406.45,351.02 407.7,349.64 408.96,349.64 410.21,351.02 411.47,353.26 412.72,355.5 413.98,356.88 415.23,356.88 416.49,355.5 417.74,353.26 419,351.02 420.25,349.64 421.51,349.64 422.76,351.02 424.02,353.26 425.27,355.5 426.53,356.88 427.78,356.88 429.04,355.5 430.29,353.26 431.55,351.02 432.8,349.64 434.06,349.64 435.31,351.02 436.57,353.26 437.82,355.5 439.08,356.88 440.33,356.88 441.59,355.5 442.84,353.26 444.1,351.02 445.35,349.64 446.61,349.64 447.86,351.02 449.12,353.26 450.37,355.5 451.62,356.88 452.88,356.88 454.14,355.5 455.39,353.26 456.65,351.02 457.9,349.64 459.16,349.64 460.41,351.02 461.67,353.26 462.92,355.5 464.18,356.88 465.43,356.88 466.69,355.5 467.94,353.26 469.2,351.02 470.45,349.64 471.71,349.64 472.96,351.02 474.22,353.26 475.47,355.5 476.73,356.88 477.98,356.88 479.24,355.5 480.49,353.26 481.75,351.02 483,349.64 484.26,349.64 485.51,351.02 486.77,353.26 488.02,355.5 489.28,356.88 490.53,356.88 491.79,355.5 493.04,353.26 494.3,351.02 495.55,349.64 496.81,349.64 498.06,351.02 499.32,353.26 500.57,355.5 501.83,356.88 503.08,356.88 504.34,355.5 505.59,353.26 506.85,351.02 508.1,349.64 509.36,349.64 510.61,351.02 511.87,353.26 513.12,355.5 514.38,356.88 515.63,356.88 516.88,355.5 518.14,353.26 519.39,351.02 520.65,349.64 521.9,349.64 523.16,351.02 524.42,353.26 525.67,355.5 526.92,356.88 528.18,356.88 529.44,355.5 530.69,353.26 531.94,351.02 533.2,349.64 534.46,349.64 535.71,351.02 536.97,353.26 538.22,355.5 539.48,356.88 540.73,356.88 541.99,355.5 543.24,353.26 544.5,351.02 545.75,349.64 547.01,349.64 548.26,351.02 549.52,353.26 550.77,355.5 552.03,356.88 553.28,356.88 554.54,355.5 555.79,353.26 557.05,351.02 558.3,349.64 559.56,349.64 560.81,351.02 562.07,353.26 563.32,355.5 564.58,356.88 565.83,356.88 567.09,355.5 568.34,353.26 569.6,351.02 570.85,349.64 572.11,349.64 573.36,351.02 574.62,353.26 575.87,355.5 577.12,356.88 578.38,356.88 579.63,355.5 580.89,353.26 582.14,351.02 583.4,349.64 584.65,349.64 585.91,351.02 587.17,353.26 588.42,355.5 589.67,356.88 590.93,356.88 592.19,355.5 593.44,353.26 594.7,351.02 595.95,349.64 597.21,349.64 598.46,351.02 599.72,353.26 600.97,355.5 602.23,356.88 603.48,356.88 604.74,355.5 605.99,353.26 607.25,351.02 608.5,349.64 609.76,349.64"/>
</g>
<g shape-rendering="crispEdges" stroke="#000" stroke-width="1" fill="none">
<rect x="106.5" y="19.5" width="503.0" height="347.0"/>
<line x1="99.0" x2="106.5" y1="31.5" y2="31.5"/>
<line x1="99.0" x2="106.5" y1="56.5" y2="56.5"/>
<line x1="99.0" x2="106.5" y1="81.5" y2="81.5"/>
<line x1="99.0" x2="106.5" y1="106.5" y2="106.5"/>
<line x1="99.0" x2="106.5" y1="130.5" y2="130.5"/>
<line x1="99.0" x2="106.5" y1="155.5" y2="155.5"/>
<line x1="99.0" x2="106.5" y1="180.5" y2="180.5"/>
<line x1="99.0" x2="106.5" y1="204.5" y2="204.5"/>
<line x1="99.0" x2="106.5" y1="229.5" y2="229.5"/>
<line x1="99.0" x2="106.5" y1="254.5" y2="254.5"/>
<line x1="99.0" x2="106.5" y1="279.5" y2="279.5"/>
<line x1="99.0" x2="106.5" y1="303.5" y2="303.5"/>
<line x1="99.0" x2="106.5" y1="328.5" y2="328.5"/>
<line x1="99.0" x2="106.5" y1="353.5" y2="353.5"/>
<line x1="106.5" x2="106.5" y1="366.5" y2="374.0"/>
<line x1="131.5" x2="131.5" y1="366.5" y2="370.0"/>
<line x1="156.5" x2="156.5" y1="366.5" y2="370.0"/>
<line x1="181.5" x2="181.5" y1="366.5" y2="370.0"/>
<line x1="206.5" x2="206.5" y1="366.5" y2="374.0"/>
<line x1="232.5" x2="232.5" y1="366.5" y2="370.0"/>
<line x1="257.5" x2="257.5" y1="366.5" y2="370.0"/>
<line x1="282.5" x2="282.5" y1="366.5" y2="370.0"/>
<line x1="307.5" x2="307.5" y1="366.5" y2="374.0"/>
<line x1="332.5" x2="332.5" y1="366.5" y2="370.0"/>
<line x1="357.5" x2="357.5" y1="366.5" y2="370.0"/>
<line x1="382.5" x2="382.5" y1="366.5" y2="370.0"/>
<line x1="407.5" x2="407.5" y1="366.5" y2="374.0"/>
<line x1="432.5" x2="432.5" y1="366.5" y2="370.0"/>
<line x1="457.5" x2="457.5" y1="366.5" y2="370.0"/>
<line x1="483.5" x2="483.5" y1="366.5" y2="370.0"/>
<line x1="508.5" x2="508.5" y1="366.5" y2="374.0"/>
<line x1="533.5" x2="533.5" y1="366.5" y2="370.0"/>
<line x1="558.5" x2="558.5" y1="366.5" y2="370.0"/>
<line x1="583.5" x2="583.5" y1="366.5" y2="370.0"/>
<line x1="608.5" x2="608.5" y1="366.5" y2="374.0"/>
</g>
<g font-family="'DejaVu Sans', 'Liberation Sans', sans-serif" font-size="12.5px" fill="#000" stroke="#000" stroke-width="0.1">
<text x="97.9" y="36.8" text-anchor="end" letter-spacing="0.12">f0.1_1.txt ?</text>
<text x="97.9" y="61.58" text-anchor="end" letter-spacing="0.12">f0.1_2.txt ?</text>
<text x="97.9" y="86.36" text-anchor="end" letter-spacing="0.12">f0.1_3.txt ?</text>
<text x="97.9" y="111.14" text-anchor="end" letter-spacing="0.12">f0.1_4.txt ?</text>
<text x="97.9" y="135.92" text-anchor="end" letter-spacing="0.12">f0.2_1.txt ?</text>
<text x="97.9" y="160.7" text-anchor="end" letter-spacing="0.12">f0.2_2.txt ?</text>
<text x="97.9" y="185.48" text-anchor="end" letter-spacing="0.12">f0.2_3.txt ?</text>
<text x="97.9" y="210.26" text-anchor="end" letter-spacing="0.12">f0.2_4.txt ?</text>
<text x="97.9" y="235.04" text-anchor="end" letter-spacing="0.12">f0.4_1.txt ?</text>
<text x="97.9" y="259.82" text-anchor="end" letter-spacing="0.12">f0.4_2.txt ?</text>
<text x="97.9" y="284.6" text-anchor="end" letter-spacing="0.12">f0.4_3.txt ?</text>
<text x="97.9" y="309.38" text-anchor="end" letter-spacing="0.12">f0.4_4.txt ?</text>
<text x="97.9" y="334.16" text-anchor="end" letter-spacing="0.21">f_all.txt ?</text>
<text x="97.9" y="358.94" text-anchor="end" letter-spacing="0.21">f_alone.txt ?</text>
<text x="106.3" y="386.2" text-anchor="middle" letter-spacing="0.16">0 s</text>
<text x="206.7" y="386.2" text-anchor="middle" letter-spacing="0.16">4 s</text>
<text x="307.1" y="386.2" text-anchor="middle" letter-spacing="0.16">8 s</text>
<text x="407.5" y="386.2" text-anchor="middle" letter-spacing="0.16">12 s</text>
<text x="507.9" y="386.2" text-anchor="middle" letter-spacing="0.16">16 s</text>
<text x="608.3" y="386.2" text-anchor="middle" letter-spacing="0.16">20 s</text>
<text x="358" y="406" text-anchor="middle" letter-spacing="0.16">Time</text>
</g>
</svg>
</body></html>
